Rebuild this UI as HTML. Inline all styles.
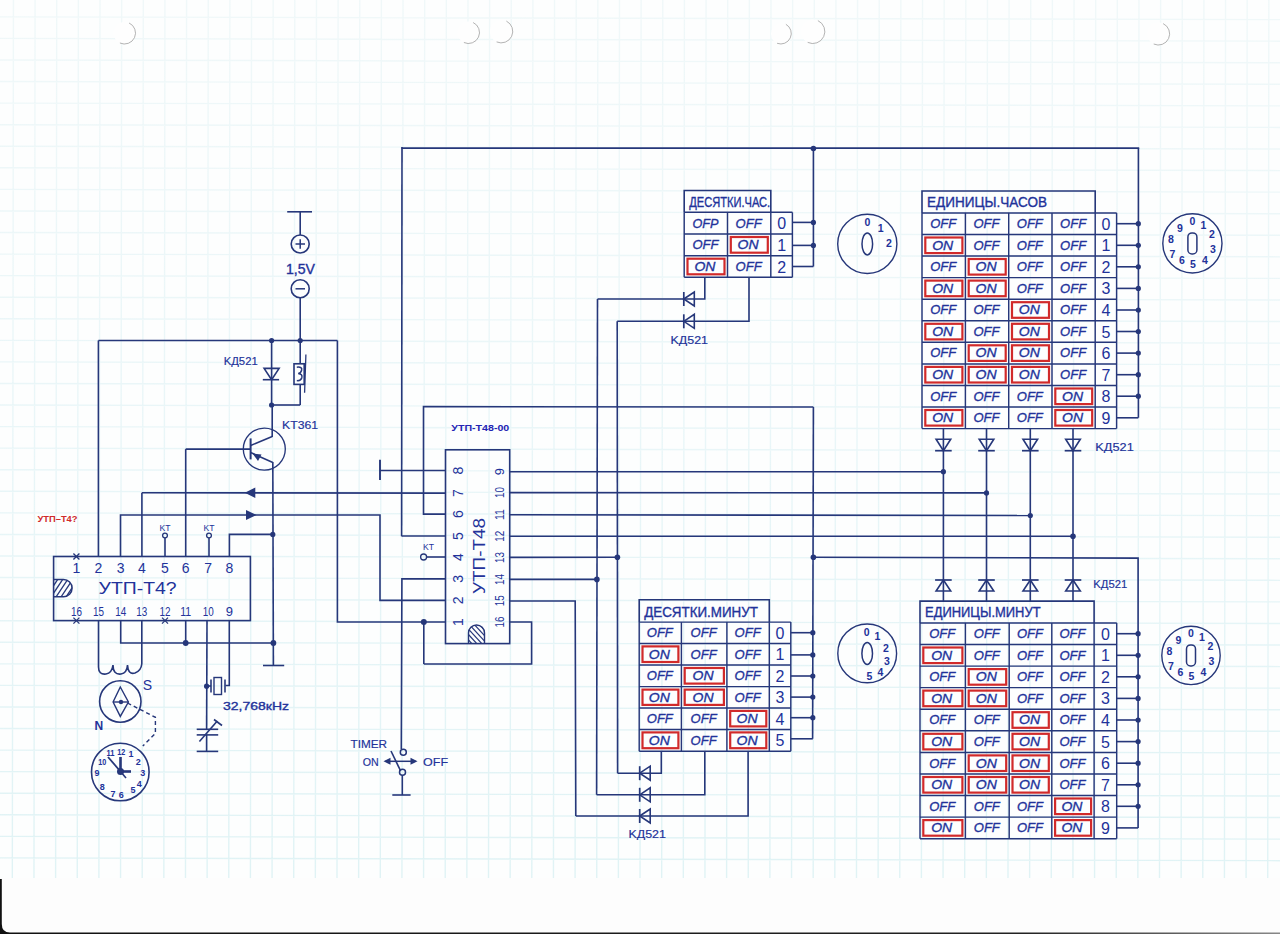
<!DOCTYPE html>
<html><head><meta charset="utf-8"><title>schematic</title>
<style>html,body{margin:0;padding:0;background:#fdfefe;}svg{display:block;}</style>
</head><body>
<svg width="1280" height="934" viewBox="0 0 1280 934">
<rect x="0" y="0" width="1280" height="934" fill="#fdfefe"/>
<defs><linearGradient id="gg" gradientUnits="userSpaceOnUse" x1="0" y1="0" x2="0" y2="880"><stop offset="0" stop-color="#f0f8f9"/><stop offset="0.5" stop-color="#e9f6f8"/><stop offset="1" stop-color="#e0f3f5"/></linearGradient></defs>
<path d="M13.43 0L12.32 879 M35.08 0L33.97 879 M56.72 0L55.61 879 M78.37 0L77.26 879 M100.01 0L98.90 879 M121.66 0L120.55 879 M143.30 0L142.19 879 M164.94 0L163.84 879 M186.59 0L185.48 879 M208.24 0L207.13 879 M229.88 0L228.77 879 M251.53 0L250.42 879 M273.17 0L272.06 879 M294.81 0L293.71 879 M316.46 0L315.35 879 M338.11 0L337.00 879 M359.75 0L358.64 879 M381.39 0L380.29 879 M403.04 0L401.93 879 M424.69 0L423.58 879 M446.33 0L445.22 879 M467.98 0L466.87 879 M489.62 0L488.51 879 M511.26 0L510.16 879 M532.91 0L531.80 879 M554.55 0L553.45 879 M576.20 0L575.09 879 M597.84 0L596.74 879 M619.49 0L618.38 879 M641.13 0L640.03 879 M662.78 0L661.67 879 M684.42 0L683.32 879 M706.07 0L704.96 879 M727.71 0L726.61 879 M749.36 0L748.25 879 M771.00 0L769.90 879 M792.65 0L791.54 879 M814.29 0L813.19 879 M835.94 0L834.83 879 M857.58 0L856.48 879 M879.23 0L878.12 879 M900.87 0L899.77 879 M922.52 0L921.41 879 M944.16 0L943.06 879 M965.81 0L964.70 879 M987.45 0L986.35 879 M1009.10 0L1007.99 879 M1030.74 0L1029.64 879 M1052.39 0L1051.28 879 M1074.04 0L1072.93 879 M1095.68 0L1094.57 879 M1117.33 0L1116.22 879 M1138.97 0L1137.86 879 M1160.62 0L1159.51 879 M1182.26 0L1181.15 879 M1203.90 0L1202.80 879 M1225.55 0L1224.44 879 M1247.19 0L1246.09 879 M1268.84 0L1267.73 879 M1290.49 0L1289.38 879 M0 16.85L1280 19.61 M0 38.42L1280 41.18 M0 59.98L1280 62.75 M0 81.55L1280 84.31 M0 103.11L1280 105.88 M0 124.68L1280 127.44 M0 146.25L1280 149.01 M0 167.81L1280 170.58 M0 189.38L1280 192.14 M0 210.94L1280 213.71 M0 232.51L1280 235.27 M0 254.08L1280 256.84 M0 275.64L1280 278.41 M0 297.21L1280 299.97 M0 318.77L1280 321.54 M0 340.34L1280 343.10 M0 361.91L1280 364.67 M0 383.47L1280 386.24 M0 405.04L1280 407.80 M0 426.60L1280 429.37 M0 448.17L1280 450.93 M0 469.74L1280 472.50 M0 491.30L1280 494.07 M0 512.87L1280 515.63 M0 534.43L1280 537.20 M0 556.00L1280 558.76 M0 577.57L1280 580.33 M0 599.13L1280 601.90 M0 620.70L1280 623.46 M0 642.26L1280 645.03 M0 663.83L1280 666.59 M0 685.40L1280 688.16 M0 706.96L1280 709.73 M0 728.53L1280 731.29 M0 750.09L1280 752.86 M0 771.66L1280 774.42 M0 793.23L1280 795.99 M0 814.79L1280 817.56 M0 836.36L1280 839.12 M0 857.92L1280 860.69" stroke="url(#gg)" stroke-width="1.4" fill="none"/>
<rect x="0" y="878" width="1280" height="56" fill="#fdfdfd"/>
<defs><linearGradient id="bg1" x1="0" x2="1" y1="0" y2="0"><stop offset="0" stop-color="#111"/><stop offset="0.8" stop-color="#222"/><stop offset="1" stop-color="#888"/></linearGradient></defs>
<path d="M0 879 H1.8 V924 Q1.8 932.5 10 932.6 H1280 V934 H0 Z" fill="url(#bg1)"/>
<circle cx="124.5" cy="33" r="11" fill="#fefefe"/>
<path d="M129.1 23.0 A11 11 0 0 1 119.9 43.0" stroke="#9a9a9a" stroke-width="1" fill="none" opacity="0.75"/>
<circle cx="468.5" cy="32.5" r="11" fill="#fefefe"/>
<path d="M473.1 22.5 A11 11 0 0 1 463.9 42.5" stroke="#9a9a9a" stroke-width="1" fill="none" opacity="0.75"/>
<circle cx="501.5" cy="31.5" r="11.5" fill="#fefefe"/>
<path d="M506.4 21.1 A11.5 11.5 0 0 1 496.6 41.9" stroke="#9a9a9a" stroke-width="1" fill="none" opacity="0.75"/>
<circle cx="781.5" cy="33.8" r="10.5" fill="#fefefe"/>
<path d="M785.9 24.3 A10.5 10.5 0 0 1 777.1 43.3" stroke="#9a9a9a" stroke-width="1" fill="none" opacity="0.75"/>
<circle cx="812.8" cy="31.5" r="12" fill="#fefefe"/>
<path d="M817.9 20.6 A12 12 0 0 1 807.7 42.4" stroke="#9a9a9a" stroke-width="1" fill="none" opacity="0.75"/>
<circle cx="1158.4" cy="33.8" r="11.2" fill="#fefefe"/>
<path d="M1163.1 23.6 A11.2 11.2 0 0 1 1153.7 44.0" stroke="#9a9a9a" stroke-width="1" fill="none" opacity="0.75"/>
<line x1="401.5" y1="148.1" x2="1139.2" y2="148.1" stroke="#26377a" stroke-width="1.6" />
<line x1="402.0" y1="147.0" x2="401.6" y2="536.2" stroke="#26377a" stroke-width="1.6" />
<circle cx="813.4" cy="148.5" r="2.8" fill="#26377a"/>
<line x1="287.2" y1="211.8" x2="312.0" y2="211.8" stroke="#26377a" stroke-width="1.6" />
<line x1="300.2" y1="211.8" x2="300.2" y2="235.0" stroke="#26377a" stroke-width="1.6" />
<circle cx="300.2" cy="244.0" r="9" fill="none" stroke="#26377a" stroke-width="1.6"/>
<line x1="295.5" y1="244.0" x2="305.0" y2="244.0" stroke="#26377a" stroke-width="1.5" />
<line x1="300.2" y1="239.3" x2="300.2" y2="248.8" stroke="#26377a" stroke-width="1.5" />
<text x="300.5" y="273.5" font-family="&quot;Liberation Sans&quot;, sans-serif" font-size="14" fill="#22329a" text-anchor="middle" font-weight="normal" font-style="normal" textLength="29" lengthAdjust="spacingAndGlyphs" stroke="#22329a" stroke-width="0.35">1,5V</text>
<circle cx="300.2" cy="288.8" r="9" fill="none" stroke="#26377a" stroke-width="1.6"/>
<line x1="295.5" y1="288.8" x2="305.0" y2="288.8" stroke="#26377a" stroke-width="1.5" />
<line x1="300.2" y1="297.8" x2="300.2" y2="340.5" stroke="#26377a" stroke-width="1.6" />
<line x1="98.4" y1="340.5" x2="337.4" y2="340.5" stroke="#26377a" stroke-width="1.6" />
<circle cx="271.6" cy="340.5" r="2.6" fill="#26377a"/>
<circle cx="300.2" cy="340.5" r="2.6" fill="#26377a"/>
<line x1="98.4" y1="340.5" x2="98.4" y2="556.5" stroke="#26377a" stroke-width="1.6" />
<polyline points="337.4,340.5 337.4,622.0 445.5,622.0" fill="none" stroke="#26377a" stroke-width="1.6" stroke-linejoin="miter" />
<line x1="271.6" y1="340.5" x2="271.6" y2="405.0" stroke="#26377a" stroke-width="1.6" />
<polygon points="264.1,368.4 279.1,368.4 271.6,379.7" fill="none" stroke="#26377a" stroke-width="1.6"/>
<line x1="262.8" y1="379.7" x2="279.1" y2="379.7" stroke="#26377a" stroke-width="1.6" />
<text x="240.7" y="365.0" font-family="&quot;Liberation Sans&quot;, sans-serif" font-size="10.5" fill="#22329a" text-anchor="middle" font-weight="normal" font-style="normal" textLength="34" lengthAdjust="spacingAndGlyphs" stroke="#22329a" stroke-width="0.15">KД521</text>
<line x1="300.2" y1="340.5" x2="300.2" y2="364.0" stroke="#26377a" stroke-width="1.6" />
<line x1="300.2" y1="384.4" x2="300.2" y2="405.0" stroke="#26377a" stroke-width="1.6" />
<rect x="294.0" y="363.8" width="10.2" height="20.6" fill="none" stroke="#26377a" stroke-width="1.6"/>
<path d="M296.8 367.2 Q302.6 366.6 301.6 370.2 Q300.8 373.2 298.2 373.4 Q302.8 374 301.8 377.8 Q300.8 381.2 296.8 380.6" stroke="#26377a" stroke-width="1.5" fill="none"/>
<line x1="305.9" y1="354.4" x2="304.6" y2="392.8" stroke="#26377a" stroke-width="1.3" />
<line x1="271.6" y1="405.0" x2="300.2" y2="405.0" stroke="#26377a" stroke-width="1.6" />
<circle cx="271.6" cy="405.0" r="2.6" fill="#26377a"/>
<circle cx="264.3" cy="449.1" r="21" fill="none" stroke="#26377a" stroke-width="1.35"/>
<line x1="272.2" y1="405.0" x2="272.2" y2="437.0" stroke="#26377a" stroke-width="1.6" />
<line x1="250.6" y1="438.4" x2="250.6" y2="459.4" stroke="#26377a" stroke-width="2" />
<line x1="250.6" y1="445.5" x2="272.2" y2="436.5" stroke="#26377a" stroke-width="1.6" />
<line x1="250.6" y1="452.5" x2="272.8" y2="462.5" stroke="#26377a" stroke-width="1.6" />
<polygon points="252.5,453.5 261.5,454.5 258.0,461.0" fill="#26377a" stroke="none" stroke-width="1.6"/>
<line x1="185.7" y1="449.1" x2="250.6" y2="449.1" stroke="#26377a" stroke-width="1.6" />
<line x1="185.7" y1="449.1" x2="185.7" y2="556.5" stroke="#26377a" stroke-width="1.6" />
<text x="300.1" y="429.2" font-family="&quot;Liberation Sans&quot;, sans-serif" font-size="10.5" fill="#22329a" text-anchor="middle" font-weight="normal" font-style="normal" textLength="36" lengthAdjust="spacingAndGlyphs" stroke="#22329a" stroke-width="0.15">KT361</text>
<line x1="272.8" y1="462.0" x2="273.4" y2="665.5" stroke="#26377a" stroke-width="1.6" />
<circle cx="272.8" cy="534.4" r="2.6" fill="#26377a"/>
<circle cx="273.4" cy="643.0" r="2.9" fill="#26377a"/>
<line x1="263.0" y1="665.5" x2="284.2" y2="665.5" stroke="#26377a" stroke-width="1.6" />
<line x1="141.9" y1="492.8" x2="445.5" y2="493.1" stroke="#26377a" stroke-width="1.6" />
<line x1="141.9" y1="492.8" x2="141.9" y2="556.5" stroke="#26377a" stroke-width="1.6" />
<polygon points="244.8,492.8 255.3,487.6 255.3,498.0" fill="#26377a" stroke="none" stroke-width="1.6"/>
<polyline points="120.5,556.5 120.5,515.0 380.0,515.0 380.0,600.4 445.5,600.4" fill="none" stroke="#26377a" stroke-width="1.6" stroke-linejoin="miter" />
<polygon points="256.5,515.0 246.0,510.0 246.0,520.0" fill="#26377a" stroke="none" stroke-width="1.6"/>
<circle cx="165.0" cy="535.5" r="2.4" fill="none" stroke="#26377a" stroke-width="1.3"/>
<line x1="165.0" y1="538.0" x2="165.0" y2="556.5" stroke="#26377a" stroke-width="1.6" />
<text x="165.0" y="531.0" font-family="&quot;Liberation Sans&quot;, sans-serif" font-size="9" fill="#22329a" text-anchor="middle" font-weight="normal" font-style="normal" textLength="11" lengthAdjust="spacingAndGlyphs" >KT</text>
<circle cx="209.0" cy="535.5" r="2.4" fill="none" stroke="#26377a" stroke-width="1.3"/>
<line x1="209.0" y1="538.0" x2="209.0" y2="556.5" stroke="#26377a" stroke-width="1.6" />
<text x="209.0" y="531.0" font-family="&quot;Liberation Sans&quot;, sans-serif" font-size="9" fill="#22329a" text-anchor="middle" font-weight="normal" font-style="normal" textLength="11" lengthAdjust="spacingAndGlyphs" >KT</text>
<polyline points="229.4,556.5 229.4,534.4 272.8,534.4" fill="none" stroke="#26377a" stroke-width="1.6" stroke-linejoin="miter" />
<rect x="53.6" y="556.5" width="196.8" height="64.1" fill="none" stroke="#26377a" stroke-width="1.6"/>
<text x="37.5" y="521.7" font-family="&quot;Liberation Sans&quot;, sans-serif" font-size="9" fill="#d02a2a" text-anchor="start" font-weight="bold" font-style="normal" textLength="40" lengthAdjust="spacingAndGlyphs" >УТП–Т4?</text>
<text x="76.4" y="572.5" font-family="&quot;Liberation Sans&quot;, sans-serif" font-size="14" fill="#22329a" text-anchor="middle" font-weight="normal" font-style="normal" >1</text>
<text x="98.5" y="572.5" font-family="&quot;Liberation Sans&quot;, sans-serif" font-size="14" fill="#22329a" text-anchor="middle" font-weight="normal" font-style="normal" >2</text>
<text x="120.7" y="572.5" font-family="&quot;Liberation Sans&quot;, sans-serif" font-size="14" fill="#22329a" text-anchor="middle" font-weight="normal" font-style="normal" >3</text>
<text x="141.8" y="572.5" font-family="&quot;Liberation Sans&quot;, sans-serif" font-size="14" fill="#22329a" text-anchor="middle" font-weight="normal" font-style="normal" >4</text>
<text x="165.0" y="572.5" font-family="&quot;Liberation Sans&quot;, sans-serif" font-size="14" fill="#22329a" text-anchor="middle" font-weight="normal" font-style="normal" >5</text>
<text x="185.7" y="572.5" font-family="&quot;Liberation Sans&quot;, sans-serif" font-size="14" fill="#22329a" text-anchor="middle" font-weight="normal" font-style="normal" >6</text>
<text x="208.2" y="572.5" font-family="&quot;Liberation Sans&quot;, sans-serif" font-size="14" fill="#22329a" text-anchor="middle" font-weight="normal" font-style="normal" >7</text>
<text x="229.3" y="572.5" font-family="&quot;Liberation Sans&quot;, sans-serif" font-size="14" fill="#22329a" text-anchor="middle" font-weight="normal" font-style="normal" >8</text>
<text x="76.4" y="615.6" font-family="&quot;Liberation Sans&quot;, sans-serif" font-size="13" fill="#22329a" text-anchor="middle" font-weight="normal" font-style="normal" textLength="11" lengthAdjust="spacingAndGlyphs" >16</text>
<text x="98.5" y="615.6" font-family="&quot;Liberation Sans&quot;, sans-serif" font-size="13" fill="#22329a" text-anchor="middle" font-weight="normal" font-style="normal" textLength="11" lengthAdjust="spacingAndGlyphs" >15</text>
<text x="120.7" y="615.6" font-family="&quot;Liberation Sans&quot;, sans-serif" font-size="13" fill="#22329a" text-anchor="middle" font-weight="normal" font-style="normal" textLength="11" lengthAdjust="spacingAndGlyphs" >14</text>
<text x="141.8" y="615.6" font-family="&quot;Liberation Sans&quot;, sans-serif" font-size="13" fill="#22329a" text-anchor="middle" font-weight="normal" font-style="normal" textLength="11" lengthAdjust="spacingAndGlyphs" >13</text>
<text x="165.0" y="615.6" font-family="&quot;Liberation Sans&quot;, sans-serif" font-size="13" fill="#22329a" text-anchor="middle" font-weight="normal" font-style="normal" textLength="11" lengthAdjust="spacingAndGlyphs" >12</text>
<text x="185.7" y="615.6" font-family="&quot;Liberation Sans&quot;, sans-serif" font-size="13" fill="#22329a" text-anchor="middle" font-weight="normal" font-style="normal" textLength="11" lengthAdjust="spacingAndGlyphs" >11</text>
<text x="208.2" y="615.6" font-family="&quot;Liberation Sans&quot;, sans-serif" font-size="13" fill="#22329a" text-anchor="middle" font-weight="normal" font-style="normal" textLength="11" lengthAdjust="spacingAndGlyphs" >10</text>
<text x="229.3" y="615.6" font-family="&quot;Liberation Sans&quot;, sans-serif" font-size="13" fill="#22329a" text-anchor="middle" font-weight="normal" font-style="normal" >9</text>
<text x="137.6" y="593.6" font-family="&quot;Liberation Sans&quot;, sans-serif" font-size="16" fill="#22329a" text-anchor="middle" font-weight="normal" font-style="normal" textLength="78" lengthAdjust="spacingAndGlyphs" >УТП-Т4?</text>
<line x1="73.4" y1="553.5" x2="79.4" y2="559.5" stroke="#26377a" stroke-width="1.3" />
<line x1="73.4" y1="559.5" x2="79.4" y2="553.5" stroke="#26377a" stroke-width="1.3" />
<line x1="73.4" y1="617.6" x2="79.4" y2="623.6" stroke="#26377a" stroke-width="1.3" />
<line x1="73.4" y1="623.6" x2="79.4" y2="617.6" stroke="#26377a" stroke-width="1.3" />
<line x1="162.0" y1="617.6" x2="168.0" y2="623.6" stroke="#26377a" stroke-width="1.3" />
<line x1="162.0" y1="623.6" x2="168.0" y2="617.6" stroke="#26377a" stroke-width="1.3" />
<clipPath id="nc1"><path d="M53.6 579.5 H63.5 A8.6 8.6 0 0 1 63.5 596.7 H53.6 Z"/></clipPath>
<path d="M53.6 579.5 H63.5 A8.6 8.6 0 0 1 63.5 596.7 H53.6" stroke="#26377a" stroke-width="1.5" fill="none"/>
<g clip-path="url(#nc1)" stroke="#26377a" stroke-width="1.3"><line x1="44" y1="600" x2="60" y2="576"/><line x1="49" y1="600" x2="65" y2="576"/><line x1="54" y1="600" x2="70" y2="576"/><line x1="59" y1="600" x2="75" y2="576"/><line x1="64" y1="600" x2="80" y2="576"/><line x1="69" y1="600" x2="85" y2="576"/></g>
<line x1="98.5" y1="620.6" x2="98.5" y2="667.0" stroke="#26377a" stroke-width="1.6" />
<line x1="141.8" y1="620.6" x2="141.8" y2="664.0" stroke="#26377a" stroke-width="1.6" />
<path d="M98.5 667 Q98.5 675 106 674 Q112 673 113 665 Q113 675 121 674 Q127 673 127.5 665 Q128 675 135 673 Q141 671 141.8 664" stroke="#26377a" stroke-width="1.6" fill="none"/>
<polyline points="120.7,620.6 120.7,643.0 273.4,643.0" fill="none" stroke="#26377a" stroke-width="1.6" stroke-linejoin="miter" />
<line x1="185.7" y1="620.6" x2="185.7" y2="643.0" stroke="#26377a" stroke-width="1.6" />
<circle cx="185.7" cy="643.0" r="2.9" fill="#26377a"/>
<line x1="207.0" y1="620.6" x2="206.6" y2="729.3" stroke="#26377a" stroke-width="1.6" />
<circle cx="206.6" cy="686.2" r="2.6" fill="#26377a"/>
<polyline points="229.3,620.6 229.3,685.5 225.5,685.5" fill="none" stroke="#26377a" stroke-width="1.6" stroke-linejoin="miter" />
<line x1="206.6" y1="686.0" x2="211.0" y2="686.0" stroke="#26377a" stroke-width="1.6" />
<line x1="211.0" y1="679.5" x2="211.0" y2="692.5" stroke="#26377a" stroke-width="1.6" />
<rect x="214.0" y="677.5" width="7.5" height="17.0" fill="none" stroke="#26377a" stroke-width="1.4"/>
<line x1="225.0" y1="679.5" x2="225.0" y2="692.5" stroke="#26377a" stroke-width="1.6" />
<text x="256.0" y="709.5" font-family="&quot;Liberation Sans&quot;, sans-serif" font-size="11.5" fill="#22329a" text-anchor="middle" font-weight="normal" font-style="normal" textLength="66" lengthAdjust="spacingAndGlyphs" stroke="#22329a" stroke-width="0.35">32,768кHz</text>
<line x1="196.7" y1="729.3" x2="218.2" y2="729.3" stroke="#26377a" stroke-width="1.6" />
<line x1="196.7" y1="734.9" x2="218.2" y2="734.9" stroke="#26377a" stroke-width="1.6" />
<line x1="206.6" y1="734.9" x2="206.6" y2="751.4" stroke="#26377a" stroke-width="1.6" />
<line x1="196.7" y1="751.4" x2="218.2" y2="751.4" stroke="#26377a" stroke-width="1.6" />
<line x1="199.4" y1="741.5" x2="217.3" y2="720.9" stroke="#26377a" stroke-width="1.6" />
<line x1="214.0" y1="719.5" x2="222.0" y2="725.5" stroke="#26377a" stroke-width="1.6" />
<circle cx="120.3" cy="701.5" r="20.7" fill="none" stroke="#26377a" stroke-width="1.6"/>
<polygon points="120.3,687.0 128.4,702.0 120.3,716.4 113.1,702.0" fill="none" stroke="#26377a" stroke-width="1.4"/>
<line x1="113.1" y1="702.0" x2="128.4" y2="702.0" stroke="#26377a" stroke-width="1.4" />
<circle cx="121.0" cy="702.0" r="2.2" fill="#26377a"/>
<text x="147.3" y="690.0" font-family="&quot;Liberation Sans&quot;, sans-serif" font-size="14" fill="#22329a" text-anchor="middle" font-weight="normal" font-style="normal" >S</text>
<text x="98.8" y="729.5" font-family="&quot;Liberation Sans&quot;, sans-serif" font-size="12" fill="#22329a" text-anchor="middle" font-weight="bold" font-style="normal" >N</text>
<polyline points="127.5,703.0 155.4,717.3 155.4,733.4 142.8,746.0" fill="none" stroke="#26377a" stroke-width="1.4" stroke-linejoin="miter" stroke-dasharray="4,3"/>
<circle cx="120.3" cy="772.0" r="28.8" fill="none" stroke="#26377a" stroke-width="1.6"/>
<text x="121.2" y="754.6" font-family="&quot;Liberation Sans&quot;, sans-serif" font-size="9" fill="#22329a" text-anchor="middle" font-weight="bold" font-style="normal" textLength="8" lengthAdjust="spacingAndGlyphs" >12</text>
<text x="131.1" y="756.8" font-family="&quot;Liberation Sans&quot;, sans-serif" font-size="9" fill="#22329a" text-anchor="middle" font-weight="bold" font-style="normal" >1</text>
<text x="138.3" y="764.5" font-family="&quot;Liberation Sans&quot;, sans-serif" font-size="9" fill="#22329a" text-anchor="middle" font-weight="bold" font-style="normal" >2</text>
<text x="142.8" y="776.2" font-family="&quot;Liberation Sans&quot;, sans-serif" font-size="9" fill="#22329a" text-anchor="middle" font-weight="bold" font-style="normal" >3</text>
<text x="139.2" y="787.0" font-family="&quot;Liberation Sans&quot;, sans-serif" font-size="9" fill="#22329a" text-anchor="middle" font-weight="bold" font-style="normal" >4</text>
<text x="132.9" y="793.2" font-family="&quot;Liberation Sans&quot;, sans-serif" font-size="9" fill="#22329a" text-anchor="middle" font-weight="bold" font-style="normal" >5</text>
<text x="121.2" y="797.7" font-family="&quot;Liberation Sans&quot;, sans-serif" font-size="9" fill="#22329a" text-anchor="middle" font-weight="bold" font-style="normal" >6</text>
<text x="113.1" y="796.8" font-family="&quot;Liberation Sans&quot;, sans-serif" font-size="9" fill="#22329a" text-anchor="middle" font-weight="bold" font-style="normal" >7</text>
<text x="102.3" y="789.7" font-family="&quot;Liberation Sans&quot;, sans-serif" font-size="9" fill="#22329a" text-anchor="middle" font-weight="bold" font-style="normal" >8</text>
<text x="97.0" y="776.2" font-family="&quot;Liberation Sans&quot;, sans-serif" font-size="9" fill="#22329a" text-anchor="middle" font-weight="bold" font-style="normal" >9</text>
<text x="102.3" y="765.4" font-family="&quot;Liberation Sans&quot;, sans-serif" font-size="9" fill="#22329a" text-anchor="middle" font-weight="bold" font-style="normal" textLength="8" lengthAdjust="spacingAndGlyphs" >10</text>
<text x="110.4" y="756.4" font-family="&quot;Liberation Sans&quot;, sans-serif" font-size="9" fill="#22329a" text-anchor="middle" font-weight="bold" font-style="normal" textLength="8" lengthAdjust="spacingAndGlyphs" >11</text>
<line x1="120.5" y1="771.5" x2="108.0" y2="757.0" stroke="#26377a" stroke-width="1.8" />
<line x1="120.5" y1="771.5" x2="120.5" y2="757.0" stroke="#26377a" stroke-width="2.6" />
<line x1="120.5" y1="771.5" x2="131.0" y2="771.5" stroke="#26377a" stroke-width="2.6" />
<line x1="120.5" y1="771.5" x2="126.0" y2="778.0" stroke="#26377a" stroke-width="1.6" />
<circle cx="120.5" cy="771.5" r="3.5" fill="#26377a"/>
<rect x="445.5" y="449.8" width="64.2" height="193.8" fill="none" stroke="#26377a" stroke-width="1.6"/>
<text x="0.0" y="0.0" font-family="&quot;Liberation Sans&quot;, sans-serif" font-size="14" fill="#22329a" text-anchor="middle" font-weight="normal" font-style="normal" transform="translate(458.5 470.6) rotate(-90) translate(0 4.5)">8</text>
<text x="0.0" y="0.0" font-family="&quot;Liberation Sans&quot;, sans-serif" font-size="14" fill="#22329a" text-anchor="middle" font-weight="normal" font-style="normal" transform="translate(458.5 493.1) rotate(-90) translate(0 4.5)">7</text>
<text x="0.0" y="0.0" font-family="&quot;Liberation Sans&quot;, sans-serif" font-size="14" fill="#22329a" text-anchor="middle" font-weight="normal" font-style="normal" transform="translate(458.5 514.1) rotate(-90) translate(0 4.5)">6</text>
<text x="0.0" y="0.0" font-family="&quot;Liberation Sans&quot;, sans-serif" font-size="14" fill="#22329a" text-anchor="middle" font-weight="normal" font-style="normal" transform="translate(458.5 536.0) rotate(-90) translate(0 4.5)">5</text>
<text x="0.0" y="0.0" font-family="&quot;Liberation Sans&quot;, sans-serif" font-size="14" fill="#22329a" text-anchor="middle" font-weight="normal" font-style="normal" transform="translate(458.5 557.0) rotate(-90) translate(0 4.5)">4</text>
<text x="0.0" y="0.0" font-family="&quot;Liberation Sans&quot;, sans-serif" font-size="14" fill="#22329a" text-anchor="middle" font-weight="normal" font-style="normal" transform="translate(458.5 578.9) rotate(-90) translate(0 4.5)">3</text>
<text x="0.0" y="0.0" font-family="&quot;Liberation Sans&quot;, sans-serif" font-size="14" fill="#22329a" text-anchor="middle" font-weight="normal" font-style="normal" transform="translate(458.5 600.4) rotate(-90) translate(0 4.5)">2</text>
<text x="0.0" y="0.0" font-family="&quot;Liberation Sans&quot;, sans-serif" font-size="14" fill="#22329a" text-anchor="middle" font-weight="normal" font-style="normal" transform="translate(458.5 622.0) rotate(-90) translate(0 4.5)">1</text>
<text x="0.0" y="0.0" font-family="&quot;Liberation Sans&quot;, sans-serif" font-size="13" fill="#22329a" text-anchor="middle" font-weight="normal" font-style="normal" transform="translate(499 471.7) rotate(-90) translate(0 4.5)">9</text>
<text x="0.0" y="0.0" font-family="&quot;Liberation Sans&quot;, sans-serif" font-size="13" fill="#22329a" text-anchor="middle" font-weight="normal" font-style="normal" textLength="11" lengthAdjust="spacingAndGlyphs" transform="translate(499 492.5) rotate(-90) translate(0 4.5)">10</text>
<text x="0.0" y="0.0" font-family="&quot;Liberation Sans&quot;, sans-serif" font-size="13" fill="#22329a" text-anchor="middle" font-weight="normal" font-style="normal" textLength="11" lengthAdjust="spacingAndGlyphs" transform="translate(499 514.6) rotate(-90) translate(0 4.5)">11</text>
<text x="0.0" y="0.0" font-family="&quot;Liberation Sans&quot;, sans-serif" font-size="13" fill="#22329a" text-anchor="middle" font-weight="normal" font-style="normal" textLength="11" lengthAdjust="spacingAndGlyphs" transform="translate(499 536.2) rotate(-90) translate(0 4.5)">12</text>
<text x="0.0" y="0.0" font-family="&quot;Liberation Sans&quot;, sans-serif" font-size="13" fill="#22329a" text-anchor="middle" font-weight="normal" font-style="normal" textLength="11" lengthAdjust="spacingAndGlyphs" transform="translate(499 557.5) rotate(-90) translate(0 4.5)">13</text>
<text x="0.0" y="0.0" font-family="&quot;Liberation Sans&quot;, sans-serif" font-size="13" fill="#22329a" text-anchor="middle" font-weight="normal" font-style="normal" textLength="11" lengthAdjust="spacingAndGlyphs" transform="translate(499 579.4) rotate(-90) translate(0 4.5)">14</text>
<text x="0.0" y="0.0" font-family="&quot;Liberation Sans&quot;, sans-serif" font-size="13" fill="#22329a" text-anchor="middle" font-weight="normal" font-style="normal" textLength="11" lengthAdjust="spacingAndGlyphs" transform="translate(499 600.8) rotate(-90) translate(0 4.5)">15</text>
<text x="0.0" y="0.0" font-family="&quot;Liberation Sans&quot;, sans-serif" font-size="13" fill="#22329a" text-anchor="middle" font-weight="normal" font-style="normal" textLength="11" lengthAdjust="spacingAndGlyphs" transform="translate(499 622.0) rotate(-90) translate(0 4.5)">16</text>
<text x="0.0" y="0.0" font-family="&quot;Liberation Sans&quot;, sans-serif" font-size="17" fill="#22329a" text-anchor="middle" font-weight="normal" font-style="normal" textLength="76" lengthAdjust="spacingAndGlyphs" transform="translate(478.5 556) rotate(-90) translate(0 6)">УТП-Т48</text>
<text x="451.3" y="430.9" font-family="&quot;Liberation Sans&quot;, sans-serif" font-size="8.5" fill="#2424b4" text-anchor="start" font-weight="bold" font-style="normal" textLength="58" lengthAdjust="spacingAndGlyphs" >УТП-Т48-00</text>
<clipPath id="nc2"><path d="M468.5 643.6 V633 A8 8 0 0 1 484.5 633 V643.6 Z"/></clipPath>
<path d="M468.5 643.6 V633 A8 8 0 0 1 484.5 633 V643.6" stroke="#26377a" stroke-width="1.4" fill="none"/>
<g clip-path="url(#nc2)" stroke="#26377a" stroke-width="1.2"><line x1="452" y1="622" x2="474" y2="646"/><line x1="457" y1="622" x2="479" y2="646"/><line x1="462" y1="622" x2="484" y2="646"/><line x1="467" y1="622" x2="489" y2="646"/><line x1="472" y1="622" x2="494" y2="646"/><line x1="477" y1="622" x2="499" y2="646"/><line x1="482" y1="622" x2="504" y2="646"/></g>
<line x1="380.0" y1="470.5" x2="445.5" y2="470.5" stroke="#26377a" stroke-width="1.6" />
<line x1="380.0" y1="459.8" x2="380.0" y2="480.0" stroke="#26377a" stroke-width="1.9" />
<polyline points="813.4,407.0 423.5,406.6 423.5,514.1 445.5,514.1" fill="none" stroke="#26377a" stroke-width="1.6" stroke-linejoin="miter" />
<line x1="401.6" y1="536.0" x2="445.5" y2="536.0" stroke="#26377a" stroke-width="1.6" />
<line x1="426.6" y1="557.0" x2="445.5" y2="557.0" stroke="#26377a" stroke-width="1.6" />
<circle cx="423.6" cy="557.0" r="3" fill="none" stroke="#26377a" stroke-width="1.3"/>
<text x="428.5" y="549.5" font-family="&quot;Liberation Sans&quot;, sans-serif" font-size="8.5" fill="#22329a" text-anchor="middle" font-weight="normal" font-style="normal" textLength="11" lengthAdjust="spacingAndGlyphs" >KT</text>
<polyline points="445.5,578.9 401.9,578.9 401.3,749.2" fill="none" stroke="#26377a" stroke-width="1.6" stroke-linejoin="miter" />
<line x1="423.8" y1="622.0" x2="423.8" y2="664.0" stroke="#26377a" stroke-width="1.6" />
<polyline points="423.8,664.0 531.6,664.0 531.6,622.0 509.7,622.0" fill="none" stroke="#26377a" stroke-width="1.6" stroke-linejoin="miter" />
<circle cx="423.8" cy="622.0" r="3" fill="#26377a"/>
<line x1="509.7" y1="471.7" x2="943.4" y2="471.7" stroke="#26377a" stroke-width="1.6" />
<circle cx="943.4" cy="471.7" r="2.6" fill="#26377a"/>
<line x1="509.7" y1="492.6" x2="986.5" y2="492.9" stroke="#26377a" stroke-width="1.6" />
<circle cx="986.5" cy="492.9" r="2.6" fill="#26377a"/>
<line x1="509.7" y1="514.8" x2="1030.3" y2="515.5" stroke="#26377a" stroke-width="1.6" />
<circle cx="1030.3" cy="515.5" r="2.6" fill="#26377a"/>
<line x1="509.7" y1="536.2" x2="1073.0" y2="536.3" stroke="#26377a" stroke-width="1.6" />
<circle cx="1073.0" cy="536.3" r="2.8" fill="#26377a"/>
<line x1="509.7" y1="557.4" x2="617.4" y2="557.3" stroke="#26377a" stroke-width="1.6" />
<circle cx="617.4" cy="557.3" r="2.8" fill="#26377a"/>
<polyline points="813.4,557.3 1138.1,558.1 1138.1,828.1" fill="none" stroke="#26377a" stroke-width="1.6" stroke-linejoin="miter" />
<circle cx="813.4" cy="557.3" r="2.8" fill="#26377a"/>
<line x1="509.7" y1="579.4" x2="596.9" y2="579.4" stroke="#26377a" stroke-width="1.6" />
<circle cx="596.9" cy="579.4" r="2.8" fill="#26377a"/>
<polyline points="509.7,601.0 575.2,601.0 575.8,816.0" fill="none" stroke="#26377a" stroke-width="1.6" stroke-linejoin="miter" />
<line x1="597.5" y1="299.0" x2="596.6" y2="794.8" stroke="#26377a" stroke-width="1.6" />
<line x1="617.2" y1="321.3" x2="617.6" y2="773.2" stroke="#26377a" stroke-width="1.6" />
<line x1="813.4" y1="407.0" x2="812.6" y2="738.8" stroke="#26377a" stroke-width="1.6" />
<circle cx="403.3" cy="752.3" r="3" fill="none" stroke="#26377a" stroke-width="1.5"/>
<circle cx="402.5" cy="772.2" r="3" fill="none" stroke="#26377a" stroke-width="1.5"/>
<line x1="391.0" y1="751.0" x2="400.6" y2="770.9" stroke="#26377a" stroke-width="1.6" />
<line x1="385.5" y1="761.3" x2="415.5" y2="761.3" stroke="#26377a" stroke-width="1.5" />
<polygon points="383.5,761.3 390.5,757.8 390.5,764.8" fill="#26377a" stroke="none" stroke-width="1.6"/>
<polygon points="417.5,761.3 410.5,757.8 410.5,764.8" fill="#26377a" stroke="none" stroke-width="1.6"/>
<line x1="402.3" y1="775.2" x2="402.3" y2="795.0" stroke="#26377a" stroke-width="1.6" />
<line x1="392.3" y1="795.0" x2="410.6" y2="795.0" stroke="#26377a" stroke-width="1.6" />
<text x="368.8" y="747.5" font-family="&quot;Liberation Sans&quot;, sans-serif" font-size="10.5" fill="#22329a" text-anchor="middle" font-weight="normal" font-style="normal" textLength="36.6" lengthAdjust="spacingAndGlyphs" stroke="#22329a" stroke-width="0.15">TIMER</text>
<text x="370.8" y="765.5" font-family="&quot;Liberation Sans&quot;, sans-serif" font-size="11" fill="#22329a" text-anchor="middle" font-weight="normal" font-style="normal" textLength="16" lengthAdjust="spacingAndGlyphs" stroke="#22329a" stroke-width="0.15">ON</text>
<text x="435.6" y="765.5" font-family="&quot;Liberation Sans&quot;, sans-serif" font-size="11" fill="#22329a" text-anchor="middle" font-weight="normal" font-style="normal" textLength="25" lengthAdjust="spacingAndGlyphs" stroke="#22329a" stroke-width="0.15">OFF</text>
<polyline points="684.2,212.3 684.2,190.5 770.8,190.5 770.8,212.3" fill="none" stroke="#26377a" stroke-width="1.6" stroke-linejoin="miter" />
<text x="689.2" y="206.8" font-family="&quot;Liberation Sans&quot;, sans-serif" font-size="14" fill="#22329a" text-anchor="start" font-weight="normal" font-style="normal" textLength="81" lengthAdjust="spacingAndGlyphs" stroke="#22329a" stroke-width="0.35">ДЕСЯТКИ.ЧАС.</text>
<line x1="684.2" y1="212.3" x2="684.2" y2="277.3" stroke="#26377a" stroke-width="1.45" />
<line x1="727.5" y1="212.3" x2="727.5" y2="277.3" stroke="#26377a" stroke-width="1.45" />
<line x1="770.8" y1="212.3" x2="770.8" y2="277.3" stroke="#26377a" stroke-width="1.45" />
<line x1="792.4" y1="212.3" x2="792.4" y2="277.3" stroke="#26377a" stroke-width="1.45" />
<line x1="684.2" y1="212.3" x2="792.4" y2="212.3" stroke="#26377a" stroke-width="1.45" />
<line x1="684.2" y1="234.0" x2="792.4" y2="234.0" stroke="#26377a" stroke-width="1.45" />
<line x1="684.2" y1="255.7" x2="792.4" y2="255.7" stroke="#26377a" stroke-width="1.45" />
<line x1="684.2" y1="277.3" x2="792.4" y2="277.3" stroke="#26377a" stroke-width="1.45" />
<text x="705.4" y="227.5" font-family="&quot;Liberation Sans&quot;, sans-serif" font-size="13.5" fill="#22329a" text-anchor="middle" font-weight="normal" font-style="italic" textLength="26" lengthAdjust="spacingAndGlyphs" stroke="#22329a" stroke-width="0.35">OFP</text>
<text x="748.6" y="227.5" font-family="&quot;Liberation Sans&quot;, sans-serif" font-size="13.5" fill="#22329a" text-anchor="middle" font-weight="normal" font-style="italic" textLength="26" lengthAdjust="spacingAndGlyphs" stroke="#22329a" stroke-width="0.35">OFF</text>
<text x="781.6" y="229.2" font-family="&quot;Liberation Sans&quot;, sans-serif" font-size="16" fill="#22329a" text-anchor="middle" font-weight="normal" font-style="normal" >0</text>
<text x="705.4" y="249.2" font-family="&quot;Liberation Sans&quot;, sans-serif" font-size="13.5" fill="#22329a" text-anchor="middle" font-weight="normal" font-style="italic" textLength="26" lengthAdjust="spacingAndGlyphs" stroke="#22329a" stroke-width="0.35">OFF</text>
<rect x="730.8" y="237.0" width="37.0" height="15.7" fill="none" stroke="#d12a2a" stroke-width="2.2"/>
<text x="748.1" y="249.2" font-family="&quot;Liberation Sans&quot;, sans-serif" font-size="13.5" fill="#22329a" text-anchor="middle" font-weight="normal" font-style="italic" textLength="21" lengthAdjust="spacingAndGlyphs" stroke="#22329a" stroke-width="0.35">ON</text>
<text x="781.6" y="250.8" font-family="&quot;Liberation Sans&quot;, sans-serif" font-size="16" fill="#22329a" text-anchor="middle" font-weight="normal" font-style="normal" >1</text>
<rect x="687.5" y="258.7" width="37.0" height="15.6" fill="none" stroke="#d12a2a" stroke-width="2.2"/>
<text x="704.9" y="270.8" font-family="&quot;Liberation Sans&quot;, sans-serif" font-size="13.5" fill="#22329a" text-anchor="middle" font-weight="normal" font-style="italic" textLength="21" lengthAdjust="spacingAndGlyphs" stroke="#22329a" stroke-width="0.35">ON</text>
<text x="748.6" y="270.8" font-family="&quot;Liberation Sans&quot;, sans-serif" font-size="13.5" fill="#22329a" text-anchor="middle" font-weight="normal" font-style="italic" textLength="26" lengthAdjust="spacingAndGlyphs" stroke="#22329a" stroke-width="0.35">OFF</text>
<text x="781.6" y="272.5" font-family="&quot;Liberation Sans&quot;, sans-serif" font-size="16" fill="#22329a" text-anchor="middle" font-weight="normal" font-style="normal" >2</text>
<line x1="792.4" y1="222.4" x2="813.4" y2="222.4" stroke="#26377a" stroke-width="1.6" />
<line x1="792.4" y1="245.4" x2="813.4" y2="245.4" stroke="#26377a" stroke-width="1.6" />
<line x1="792.4" y1="266.5" x2="813.4" y2="266.5" stroke="#26377a" stroke-width="1.6" />
<line x1="813.4" y1="148.5" x2="813.4" y2="266.5" stroke="#26377a" stroke-width="1.6" />
<circle cx="813.4" cy="222.4" r="2.6" fill="#26377a"/>
<circle cx="813.4" cy="245.4" r="2.6" fill="#26377a"/>
<polyline points="922.0,212.9 922.0,191.0 1095.2,191.0 1095.2,212.9" fill="none" stroke="#26377a" stroke-width="1.6" stroke-linejoin="miter" />
<text x="927.0" y="207.4" font-family="&quot;Liberation Sans&quot;, sans-serif" font-size="14" fill="#22329a" text-anchor="start" font-weight="normal" font-style="normal" textLength="120" lengthAdjust="spacingAndGlyphs" stroke="#22329a" stroke-width="0.35">ЕДИНИЦЫ.ЧАСОВ</text>
<line x1="922.0" y1="212.9" x2="922.0" y2="428.6" stroke="#26377a" stroke-width="1.45" />
<line x1="965.4" y1="212.9" x2="965.4" y2="428.6" stroke="#26377a" stroke-width="1.45" />
<line x1="1008.7" y1="212.9" x2="1008.7" y2="428.6" stroke="#26377a" stroke-width="1.45" />
<line x1="1052.0" y1="212.9" x2="1052.0" y2="428.6" stroke="#26377a" stroke-width="1.45" />
<line x1="1095.2" y1="212.9" x2="1095.2" y2="428.6" stroke="#26377a" stroke-width="1.45" />
<line x1="1116.6" y1="212.9" x2="1116.6" y2="428.6" stroke="#26377a" stroke-width="1.45" />
<line x1="922.0" y1="212.9" x2="1116.6" y2="212.9" stroke="#26377a" stroke-width="1.45" />
<line x1="922.0" y1="234.5" x2="1116.6" y2="234.5" stroke="#26377a" stroke-width="1.45" />
<line x1="922.0" y1="256.0" x2="1116.6" y2="256.0" stroke="#26377a" stroke-width="1.45" />
<line x1="922.0" y1="277.6" x2="1116.6" y2="277.6" stroke="#26377a" stroke-width="1.45" />
<line x1="922.0" y1="299.2" x2="1116.6" y2="299.2" stroke="#26377a" stroke-width="1.45" />
<line x1="922.0" y1="320.8" x2="1116.6" y2="320.8" stroke="#26377a" stroke-width="1.45" />
<line x1="922.0" y1="342.3" x2="1116.6" y2="342.3" stroke="#26377a" stroke-width="1.45" />
<line x1="922.0" y1="363.9" x2="1116.6" y2="363.9" stroke="#26377a" stroke-width="1.45" />
<line x1="922.0" y1="385.5" x2="1116.6" y2="385.5" stroke="#26377a" stroke-width="1.45" />
<line x1="922.0" y1="407.0" x2="1116.6" y2="407.0" stroke="#26377a" stroke-width="1.45" />
<line x1="922.0" y1="428.6" x2="1116.6" y2="428.6" stroke="#26377a" stroke-width="1.45" />
<text x="943.2" y="228.0" font-family="&quot;Liberation Sans&quot;, sans-serif" font-size="13.5" fill="#22329a" text-anchor="middle" font-weight="normal" font-style="italic" textLength="26" lengthAdjust="spacingAndGlyphs" stroke="#22329a" stroke-width="0.35">OFF</text>
<text x="986.5" y="228.0" font-family="&quot;Liberation Sans&quot;, sans-serif" font-size="13.5" fill="#22329a" text-anchor="middle" font-weight="normal" font-style="italic" textLength="26" lengthAdjust="spacingAndGlyphs" stroke="#22329a" stroke-width="0.35">OFF</text>
<text x="1029.8" y="228.0" font-family="&quot;Liberation Sans&quot;, sans-serif" font-size="13.5" fill="#22329a" text-anchor="middle" font-weight="normal" font-style="italic" textLength="26" lengthAdjust="spacingAndGlyphs" stroke="#22329a" stroke-width="0.35">OFF</text>
<text x="1073.1" y="228.0" font-family="&quot;Liberation Sans&quot;, sans-serif" font-size="13.5" fill="#22329a" text-anchor="middle" font-weight="normal" font-style="italic" textLength="26" lengthAdjust="spacingAndGlyphs" stroke="#22329a" stroke-width="0.35">OFF</text>
<text x="1105.9" y="229.7" font-family="&quot;Liberation Sans&quot;, sans-serif" font-size="16" fill="#22329a" text-anchor="middle" font-weight="normal" font-style="normal" >0</text>
<rect x="925.3" y="237.5" width="37.1" height="15.6" fill="none" stroke="#d12a2a" stroke-width="2.2"/>
<text x="942.7" y="249.6" font-family="&quot;Liberation Sans&quot;, sans-serif" font-size="13.5" fill="#22329a" text-anchor="middle" font-weight="normal" font-style="italic" textLength="21" lengthAdjust="spacingAndGlyphs" stroke="#22329a" stroke-width="0.35">ON</text>
<text x="986.5" y="249.6" font-family="&quot;Liberation Sans&quot;, sans-serif" font-size="13.5" fill="#22329a" text-anchor="middle" font-weight="normal" font-style="italic" textLength="26" lengthAdjust="spacingAndGlyphs" stroke="#22329a" stroke-width="0.35">OFF</text>
<text x="1029.8" y="249.6" font-family="&quot;Liberation Sans&quot;, sans-serif" font-size="13.5" fill="#22329a" text-anchor="middle" font-weight="normal" font-style="italic" textLength="26" lengthAdjust="spacingAndGlyphs" stroke="#22329a" stroke-width="0.35">OFF</text>
<text x="1073.1" y="249.6" font-family="&quot;Liberation Sans&quot;, sans-serif" font-size="13.5" fill="#22329a" text-anchor="middle" font-weight="normal" font-style="italic" textLength="26" lengthAdjust="spacingAndGlyphs" stroke="#22329a" stroke-width="0.35">OFF</text>
<text x="1105.9" y="251.3" font-family="&quot;Liberation Sans&quot;, sans-serif" font-size="16" fill="#22329a" text-anchor="middle" font-weight="normal" font-style="normal" >1</text>
<text x="943.2" y="271.1" font-family="&quot;Liberation Sans&quot;, sans-serif" font-size="13.5" fill="#22329a" text-anchor="middle" font-weight="normal" font-style="italic" textLength="26" lengthAdjust="spacingAndGlyphs" stroke="#22329a" stroke-width="0.35">OFF</text>
<rect x="968.7" y="259.0" width="37.0" height="15.6" fill="none" stroke="#d12a2a" stroke-width="2.2"/>
<text x="986.0" y="271.1" font-family="&quot;Liberation Sans&quot;, sans-serif" font-size="13.5" fill="#22329a" text-anchor="middle" font-weight="normal" font-style="italic" textLength="21" lengthAdjust="spacingAndGlyphs" stroke="#22329a" stroke-width="0.35">ON</text>
<text x="1029.8" y="271.1" font-family="&quot;Liberation Sans&quot;, sans-serif" font-size="13.5" fill="#22329a" text-anchor="middle" font-weight="normal" font-style="italic" textLength="26" lengthAdjust="spacingAndGlyphs" stroke="#22329a" stroke-width="0.35">OFF</text>
<text x="1073.1" y="271.1" font-family="&quot;Liberation Sans&quot;, sans-serif" font-size="13.5" fill="#22329a" text-anchor="middle" font-weight="normal" font-style="italic" textLength="26" lengthAdjust="spacingAndGlyphs" stroke="#22329a" stroke-width="0.35">OFF</text>
<text x="1105.9" y="272.8" font-family="&quot;Liberation Sans&quot;, sans-serif" font-size="16" fill="#22329a" text-anchor="middle" font-weight="normal" font-style="normal" >2</text>
<rect x="925.3" y="280.6" width="37.1" height="15.6" fill="none" stroke="#d12a2a" stroke-width="2.2"/>
<text x="942.7" y="292.7" font-family="&quot;Liberation Sans&quot;, sans-serif" font-size="13.5" fill="#22329a" text-anchor="middle" font-weight="normal" font-style="italic" textLength="21" lengthAdjust="spacingAndGlyphs" stroke="#22329a" stroke-width="0.35">ON</text>
<rect x="968.7" y="280.6" width="37.0" height="15.6" fill="none" stroke="#d12a2a" stroke-width="2.2"/>
<text x="986.0" y="292.7" font-family="&quot;Liberation Sans&quot;, sans-serif" font-size="13.5" fill="#22329a" text-anchor="middle" font-weight="normal" font-style="italic" textLength="21" lengthAdjust="spacingAndGlyphs" stroke="#22329a" stroke-width="0.35">ON</text>
<text x="1029.8" y="292.7" font-family="&quot;Liberation Sans&quot;, sans-serif" font-size="13.5" fill="#22329a" text-anchor="middle" font-weight="normal" font-style="italic" textLength="26" lengthAdjust="spacingAndGlyphs" stroke="#22329a" stroke-width="0.35">OFF</text>
<text x="1073.1" y="292.7" font-family="&quot;Liberation Sans&quot;, sans-serif" font-size="13.5" fill="#22329a" text-anchor="middle" font-weight="normal" font-style="italic" textLength="26" lengthAdjust="spacingAndGlyphs" stroke="#22329a" stroke-width="0.35">OFF</text>
<text x="1105.9" y="294.4" font-family="&quot;Liberation Sans&quot;, sans-serif" font-size="16" fill="#22329a" text-anchor="middle" font-weight="normal" font-style="normal" >3</text>
<text x="943.2" y="314.3" font-family="&quot;Liberation Sans&quot;, sans-serif" font-size="13.5" fill="#22329a" text-anchor="middle" font-weight="normal" font-style="italic" textLength="26" lengthAdjust="spacingAndGlyphs" stroke="#22329a" stroke-width="0.35">OFF</text>
<text x="986.5" y="314.3" font-family="&quot;Liberation Sans&quot;, sans-serif" font-size="13.5" fill="#22329a" text-anchor="middle" font-weight="normal" font-style="italic" textLength="26" lengthAdjust="spacingAndGlyphs" stroke="#22329a" stroke-width="0.35">OFF</text>
<rect x="1012.0" y="302.2" width="37.0" height="15.6" fill="none" stroke="#d12a2a" stroke-width="2.2"/>
<text x="1029.3" y="314.3" font-family="&quot;Liberation Sans&quot;, sans-serif" font-size="13.5" fill="#22329a" text-anchor="middle" font-weight="normal" font-style="italic" textLength="21" lengthAdjust="spacingAndGlyphs" stroke="#22329a" stroke-width="0.35">ON</text>
<text x="1073.1" y="314.3" font-family="&quot;Liberation Sans&quot;, sans-serif" font-size="13.5" fill="#22329a" text-anchor="middle" font-weight="normal" font-style="italic" textLength="26" lengthAdjust="spacingAndGlyphs" stroke="#22329a" stroke-width="0.35">OFF</text>
<text x="1105.9" y="316.0" font-family="&quot;Liberation Sans&quot;, sans-serif" font-size="16" fill="#22329a" text-anchor="middle" font-weight="normal" font-style="normal" >4</text>
<rect x="925.3" y="323.8" width="37.1" height="15.6" fill="none" stroke="#d12a2a" stroke-width="2.2"/>
<text x="942.7" y="335.8" font-family="&quot;Liberation Sans&quot;, sans-serif" font-size="13.5" fill="#22329a" text-anchor="middle" font-weight="normal" font-style="italic" textLength="21" lengthAdjust="spacingAndGlyphs" stroke="#22329a" stroke-width="0.35">ON</text>
<text x="986.5" y="335.8" font-family="&quot;Liberation Sans&quot;, sans-serif" font-size="13.5" fill="#22329a" text-anchor="middle" font-weight="normal" font-style="italic" textLength="26" lengthAdjust="spacingAndGlyphs" stroke="#22329a" stroke-width="0.35">OFF</text>
<rect x="1012.0" y="323.8" width="37.0" height="15.6" fill="none" stroke="#d12a2a" stroke-width="2.2"/>
<text x="1029.3" y="335.8" font-family="&quot;Liberation Sans&quot;, sans-serif" font-size="13.5" fill="#22329a" text-anchor="middle" font-weight="normal" font-style="italic" textLength="21" lengthAdjust="spacingAndGlyphs" stroke="#22329a" stroke-width="0.35">ON</text>
<text x="1073.1" y="335.8" font-family="&quot;Liberation Sans&quot;, sans-serif" font-size="13.5" fill="#22329a" text-anchor="middle" font-weight="normal" font-style="italic" textLength="26" lengthAdjust="spacingAndGlyphs" stroke="#22329a" stroke-width="0.35">OFF</text>
<text x="1105.9" y="337.5" font-family="&quot;Liberation Sans&quot;, sans-serif" font-size="16" fill="#22329a" text-anchor="middle" font-weight="normal" font-style="normal" >5</text>
<text x="943.2" y="357.4" font-family="&quot;Liberation Sans&quot;, sans-serif" font-size="13.5" fill="#22329a" text-anchor="middle" font-weight="normal" font-style="italic" textLength="26" lengthAdjust="spacingAndGlyphs" stroke="#22329a" stroke-width="0.35">OFF</text>
<rect x="968.7" y="345.3" width="37.0" height="15.6" fill="none" stroke="#d12a2a" stroke-width="2.2"/>
<text x="986.0" y="357.4" font-family="&quot;Liberation Sans&quot;, sans-serif" font-size="13.5" fill="#22329a" text-anchor="middle" font-weight="normal" font-style="italic" textLength="21" lengthAdjust="spacingAndGlyphs" stroke="#22329a" stroke-width="0.35">ON</text>
<rect x="1012.0" y="345.3" width="37.0" height="15.6" fill="none" stroke="#d12a2a" stroke-width="2.2"/>
<text x="1029.3" y="357.4" font-family="&quot;Liberation Sans&quot;, sans-serif" font-size="13.5" fill="#22329a" text-anchor="middle" font-weight="normal" font-style="italic" textLength="21" lengthAdjust="spacingAndGlyphs" stroke="#22329a" stroke-width="0.35">ON</text>
<text x="1073.1" y="357.4" font-family="&quot;Liberation Sans&quot;, sans-serif" font-size="13.5" fill="#22329a" text-anchor="middle" font-weight="normal" font-style="italic" textLength="26" lengthAdjust="spacingAndGlyphs" stroke="#22329a" stroke-width="0.35">OFF</text>
<text x="1105.9" y="359.1" font-family="&quot;Liberation Sans&quot;, sans-serif" font-size="16" fill="#22329a" text-anchor="middle" font-weight="normal" font-style="normal" >6</text>
<rect x="925.3" y="366.9" width="37.1" height="15.6" fill="none" stroke="#d12a2a" stroke-width="2.2"/>
<text x="942.7" y="379.0" font-family="&quot;Liberation Sans&quot;, sans-serif" font-size="13.5" fill="#22329a" text-anchor="middle" font-weight="normal" font-style="italic" textLength="21" lengthAdjust="spacingAndGlyphs" stroke="#22329a" stroke-width="0.35">ON</text>
<rect x="968.7" y="366.9" width="37.0" height="15.6" fill="none" stroke="#d12a2a" stroke-width="2.2"/>
<text x="986.0" y="379.0" font-family="&quot;Liberation Sans&quot;, sans-serif" font-size="13.5" fill="#22329a" text-anchor="middle" font-weight="normal" font-style="italic" textLength="21" lengthAdjust="spacingAndGlyphs" stroke="#22329a" stroke-width="0.35">ON</text>
<rect x="1012.0" y="366.9" width="37.0" height="15.6" fill="none" stroke="#d12a2a" stroke-width="2.2"/>
<text x="1029.3" y="379.0" font-family="&quot;Liberation Sans&quot;, sans-serif" font-size="13.5" fill="#22329a" text-anchor="middle" font-weight="normal" font-style="italic" textLength="21" lengthAdjust="spacingAndGlyphs" stroke="#22329a" stroke-width="0.35">ON</text>
<text x="1073.1" y="379.0" font-family="&quot;Liberation Sans&quot;, sans-serif" font-size="13.5" fill="#22329a" text-anchor="middle" font-weight="normal" font-style="italic" textLength="26" lengthAdjust="spacingAndGlyphs" stroke="#22329a" stroke-width="0.35">OFF</text>
<text x="1105.9" y="380.7" font-family="&quot;Liberation Sans&quot;, sans-serif" font-size="16" fill="#22329a" text-anchor="middle" font-weight="normal" font-style="normal" >7</text>
<text x="943.2" y="400.5" font-family="&quot;Liberation Sans&quot;, sans-serif" font-size="13.5" fill="#22329a" text-anchor="middle" font-weight="normal" font-style="italic" textLength="26" lengthAdjust="spacingAndGlyphs" stroke="#22329a" stroke-width="0.35">OFF</text>
<text x="986.5" y="400.5" font-family="&quot;Liberation Sans&quot;, sans-serif" font-size="13.5" fill="#22329a" text-anchor="middle" font-weight="normal" font-style="italic" textLength="26" lengthAdjust="spacingAndGlyphs" stroke="#22329a" stroke-width="0.35">OFF</text>
<text x="1029.8" y="400.5" font-family="&quot;Liberation Sans&quot;, sans-serif" font-size="13.5" fill="#22329a" text-anchor="middle" font-weight="normal" font-style="italic" textLength="26" lengthAdjust="spacingAndGlyphs" stroke="#22329a" stroke-width="0.35">OFF</text>
<rect x="1055.3" y="388.5" width="36.9" height="15.6" fill="none" stroke="#d12a2a" stroke-width="2.2"/>
<text x="1072.6" y="400.5" font-family="&quot;Liberation Sans&quot;, sans-serif" font-size="13.5" fill="#22329a" text-anchor="middle" font-weight="normal" font-style="italic" textLength="21" lengthAdjust="spacingAndGlyphs" stroke="#22329a" stroke-width="0.35">ON</text>
<text x="1105.9" y="402.2" font-family="&quot;Liberation Sans&quot;, sans-serif" font-size="16" fill="#22329a" text-anchor="middle" font-weight="normal" font-style="normal" >8</text>
<rect x="925.3" y="410.0" width="37.1" height="15.6" fill="none" stroke="#d12a2a" stroke-width="2.2"/>
<text x="942.7" y="422.1" font-family="&quot;Liberation Sans&quot;, sans-serif" font-size="13.5" fill="#22329a" text-anchor="middle" font-weight="normal" font-style="italic" textLength="21" lengthAdjust="spacingAndGlyphs" stroke="#22329a" stroke-width="0.35">ON</text>
<text x="986.5" y="422.1" font-family="&quot;Liberation Sans&quot;, sans-serif" font-size="13.5" fill="#22329a" text-anchor="middle" font-weight="normal" font-style="italic" textLength="26" lengthAdjust="spacingAndGlyphs" stroke="#22329a" stroke-width="0.35">OFF</text>
<text x="1029.8" y="422.1" font-family="&quot;Liberation Sans&quot;, sans-serif" font-size="13.5" fill="#22329a" text-anchor="middle" font-weight="normal" font-style="italic" textLength="26" lengthAdjust="spacingAndGlyphs" stroke="#22329a" stroke-width="0.35">OFF</text>
<rect x="1055.3" y="410.0" width="36.9" height="15.6" fill="none" stroke="#d12a2a" stroke-width="2.2"/>
<text x="1072.6" y="422.1" font-family="&quot;Liberation Sans&quot;, sans-serif" font-size="13.5" fill="#22329a" text-anchor="middle" font-weight="normal" font-style="italic" textLength="21" lengthAdjust="spacingAndGlyphs" stroke="#22329a" stroke-width="0.35">ON</text>
<text x="1105.9" y="423.8" font-family="&quot;Liberation Sans&quot;, sans-serif" font-size="16" fill="#22329a" text-anchor="middle" font-weight="normal" font-style="normal" >9</text>
<line x1="1138.4" y1="148.1" x2="1138.4" y2="417.8" stroke="#26377a" stroke-width="1.6" />
<line x1="1116.6" y1="223.7" x2="1138.3" y2="223.7" stroke="#26377a" stroke-width="1.6" />
<circle cx="1138.3" cy="223.7" r="2.6" fill="#26377a"/>
<line x1="1116.6" y1="245.3" x2="1138.3" y2="245.3" stroke="#26377a" stroke-width="1.6" />
<circle cx="1138.3" cy="245.3" r="2.6" fill="#26377a"/>
<line x1="1116.6" y1="266.8" x2="1138.3" y2="266.8" stroke="#26377a" stroke-width="1.6" />
<circle cx="1138.3" cy="266.8" r="2.6" fill="#26377a"/>
<line x1="1116.6" y1="288.4" x2="1138.3" y2="288.4" stroke="#26377a" stroke-width="1.6" />
<circle cx="1138.3" cy="288.4" r="2.6" fill="#26377a"/>
<line x1="1116.6" y1="310.0" x2="1138.3" y2="310.0" stroke="#26377a" stroke-width="1.6" />
<circle cx="1138.3" cy="310.0" r="2.6" fill="#26377a"/>
<line x1="1116.6" y1="331.5" x2="1138.3" y2="331.5" stroke="#26377a" stroke-width="1.6" />
<circle cx="1138.3" cy="331.5" r="2.6" fill="#26377a"/>
<line x1="1116.6" y1="353.1" x2="1138.3" y2="353.1" stroke="#26377a" stroke-width="1.6" />
<circle cx="1138.3" cy="353.1" r="2.6" fill="#26377a"/>
<line x1="1116.6" y1="374.7" x2="1138.3" y2="374.7" stroke="#26377a" stroke-width="1.6" />
<circle cx="1138.3" cy="374.7" r="2.6" fill="#26377a"/>
<line x1="1116.6" y1="396.2" x2="1138.3" y2="396.2" stroke="#26377a" stroke-width="1.6" />
<circle cx="1138.3" cy="396.2" r="2.6" fill="#26377a"/>
<line x1="1116.6" y1="417.8" x2="1138.3" y2="417.8" stroke="#26377a" stroke-width="1.6" />
<polyline points="639.2,622.1 639.2,599.8 769.3,599.8 769.3,622.1" fill="none" stroke="#26377a" stroke-width="1.6" stroke-linejoin="miter" />
<text x="644.2" y="616.6" font-family="&quot;Liberation Sans&quot;, sans-serif" font-size="14" fill="#22329a" text-anchor="start" font-weight="normal" font-style="normal" textLength="113.7" lengthAdjust="spacingAndGlyphs" stroke="#22329a" stroke-width="0.35">ДЕСЯТКИ.МИНУТ</text>
<line x1="639.2" y1="622.1" x2="639.2" y2="751.2" stroke="#26377a" stroke-width="1.45" />
<line x1="681.4" y1="622.1" x2="681.4" y2="751.2" stroke="#26377a" stroke-width="1.45" />
<line x1="726.9" y1="622.1" x2="726.9" y2="751.2" stroke="#26377a" stroke-width="1.45" />
<line x1="769.3" y1="622.1" x2="769.3" y2="751.2" stroke="#26377a" stroke-width="1.45" />
<line x1="790.8" y1="622.1" x2="790.8" y2="751.2" stroke="#26377a" stroke-width="1.45" />
<line x1="639.2" y1="622.1" x2="790.8" y2="622.1" stroke="#26377a" stroke-width="1.45" />
<line x1="639.2" y1="643.4" x2="790.8" y2="643.4" stroke="#26377a" stroke-width="1.45" />
<line x1="639.2" y1="665.0" x2="790.8" y2="665.0" stroke="#26377a" stroke-width="1.45" />
<line x1="639.2" y1="686.6" x2="790.8" y2="686.6" stroke="#26377a" stroke-width="1.45" />
<line x1="639.2" y1="707.9" x2="790.8" y2="707.9" stroke="#26377a" stroke-width="1.45" />
<line x1="639.2" y1="729.4" x2="790.8" y2="729.4" stroke="#26377a" stroke-width="1.45" />
<line x1="639.2" y1="751.2" x2="790.8" y2="751.2" stroke="#26377a" stroke-width="1.45" />
<text x="659.8" y="637.0" font-family="&quot;Liberation Sans&quot;, sans-serif" font-size="13.5" fill="#22329a" text-anchor="middle" font-weight="normal" font-style="italic" textLength="26" lengthAdjust="spacingAndGlyphs" stroke="#22329a" stroke-width="0.35">OFF</text>
<text x="703.6" y="637.0" font-family="&quot;Liberation Sans&quot;, sans-serif" font-size="13.5" fill="#22329a" text-anchor="middle" font-weight="normal" font-style="italic" textLength="26" lengthAdjust="spacingAndGlyphs" stroke="#22329a" stroke-width="0.35">OFF</text>
<text x="747.6" y="637.0" font-family="&quot;Liberation Sans&quot;, sans-serif" font-size="13.5" fill="#22329a" text-anchor="middle" font-weight="normal" font-style="italic" textLength="26" lengthAdjust="spacingAndGlyphs" stroke="#22329a" stroke-width="0.35">OFF</text>
<text x="780.0" y="638.8" font-family="&quot;Liberation Sans&quot;, sans-serif" font-size="16" fill="#22329a" text-anchor="middle" font-weight="normal" font-style="normal" >0</text>
<rect x="642.5" y="646.4" width="35.9" height="15.6" fill="none" stroke="#d12a2a" stroke-width="2.2"/>
<text x="659.3" y="658.5" font-family="&quot;Liberation Sans&quot;, sans-serif" font-size="13.5" fill="#22329a" text-anchor="middle" font-weight="normal" font-style="italic" textLength="21" lengthAdjust="spacingAndGlyphs" stroke="#22329a" stroke-width="0.35">ON</text>
<text x="703.6" y="658.5" font-family="&quot;Liberation Sans&quot;, sans-serif" font-size="13.5" fill="#22329a" text-anchor="middle" font-weight="normal" font-style="italic" textLength="26" lengthAdjust="spacingAndGlyphs" stroke="#22329a" stroke-width="0.35">OFF</text>
<text x="747.6" y="658.5" font-family="&quot;Liberation Sans&quot;, sans-serif" font-size="13.5" fill="#22329a" text-anchor="middle" font-weight="normal" font-style="italic" textLength="26" lengthAdjust="spacingAndGlyphs" stroke="#22329a" stroke-width="0.35">OFF</text>
<text x="780.0" y="660.2" font-family="&quot;Liberation Sans&quot;, sans-serif" font-size="16" fill="#22329a" text-anchor="middle" font-weight="normal" font-style="normal" >1</text>
<text x="659.8" y="680.1" font-family="&quot;Liberation Sans&quot;, sans-serif" font-size="13.5" fill="#22329a" text-anchor="middle" font-weight="normal" font-style="italic" textLength="26" lengthAdjust="spacingAndGlyphs" stroke="#22329a" stroke-width="0.35">OFF</text>
<rect x="684.7" y="668.0" width="39.2" height="15.6" fill="none" stroke="#d12a2a" stroke-width="2.2"/>
<text x="703.1" y="680.1" font-family="&quot;Liberation Sans&quot;, sans-serif" font-size="13.5" fill="#22329a" text-anchor="middle" font-weight="normal" font-style="italic" textLength="21" lengthAdjust="spacingAndGlyphs" stroke="#22329a" stroke-width="0.35">ON</text>
<text x="747.6" y="680.1" font-family="&quot;Liberation Sans&quot;, sans-serif" font-size="13.5" fill="#22329a" text-anchor="middle" font-weight="normal" font-style="italic" textLength="26" lengthAdjust="spacingAndGlyphs" stroke="#22329a" stroke-width="0.35">OFF</text>
<text x="780.0" y="681.8" font-family="&quot;Liberation Sans&quot;, sans-serif" font-size="16" fill="#22329a" text-anchor="middle" font-weight="normal" font-style="normal" >2</text>
<rect x="642.5" y="689.6" width="35.9" height="15.3" fill="none" stroke="#d12a2a" stroke-width="2.2"/>
<text x="659.3" y="701.5" font-family="&quot;Liberation Sans&quot;, sans-serif" font-size="13.5" fill="#22329a" text-anchor="middle" font-weight="normal" font-style="italic" textLength="21" lengthAdjust="spacingAndGlyphs" stroke="#22329a" stroke-width="0.35">ON</text>
<rect x="684.7" y="689.6" width="39.2" height="15.3" fill="none" stroke="#d12a2a" stroke-width="2.2"/>
<text x="703.1" y="701.5" font-family="&quot;Liberation Sans&quot;, sans-serif" font-size="13.5" fill="#22329a" text-anchor="middle" font-weight="normal" font-style="italic" textLength="21" lengthAdjust="spacingAndGlyphs" stroke="#22329a" stroke-width="0.35">ON</text>
<text x="747.6" y="701.5" font-family="&quot;Liberation Sans&quot;, sans-serif" font-size="13.5" fill="#22329a" text-anchor="middle" font-weight="normal" font-style="italic" textLength="26" lengthAdjust="spacingAndGlyphs" stroke="#22329a" stroke-width="0.35">OFF</text>
<text x="780.0" y="703.2" font-family="&quot;Liberation Sans&quot;, sans-serif" font-size="16" fill="#22329a" text-anchor="middle" font-weight="normal" font-style="normal" >3</text>
<text x="659.8" y="722.9" font-family="&quot;Liberation Sans&quot;, sans-serif" font-size="13.5" fill="#22329a" text-anchor="middle" font-weight="normal" font-style="italic" textLength="26" lengthAdjust="spacingAndGlyphs" stroke="#22329a" stroke-width="0.35">OFF</text>
<text x="703.6" y="722.9" font-family="&quot;Liberation Sans&quot;, sans-serif" font-size="13.5" fill="#22329a" text-anchor="middle" font-weight="normal" font-style="italic" textLength="26" lengthAdjust="spacingAndGlyphs" stroke="#22329a" stroke-width="0.35">OFF</text>
<rect x="730.2" y="710.9" width="36.1" height="15.5" fill="none" stroke="#d12a2a" stroke-width="2.2"/>
<text x="747.1" y="722.9" font-family="&quot;Liberation Sans&quot;, sans-serif" font-size="13.5" fill="#22329a" text-anchor="middle" font-weight="normal" font-style="italic" textLength="21" lengthAdjust="spacingAndGlyphs" stroke="#22329a" stroke-width="0.35">ON</text>
<text x="780.0" y="724.6" font-family="&quot;Liberation Sans&quot;, sans-serif" font-size="16" fill="#22329a" text-anchor="middle" font-weight="normal" font-style="normal" >4</text>
<rect x="642.5" y="732.4" width="35.9" height="15.8" fill="none" stroke="#d12a2a" stroke-width="2.2"/>
<text x="659.3" y="744.6" font-family="&quot;Liberation Sans&quot;, sans-serif" font-size="13.5" fill="#22329a" text-anchor="middle" font-weight="normal" font-style="italic" textLength="21" lengthAdjust="spacingAndGlyphs" stroke="#22329a" stroke-width="0.35">ON</text>
<text x="703.6" y="744.6" font-family="&quot;Liberation Sans&quot;, sans-serif" font-size="13.5" fill="#22329a" text-anchor="middle" font-weight="normal" font-style="italic" textLength="26" lengthAdjust="spacingAndGlyphs" stroke="#22329a" stroke-width="0.35">OFF</text>
<rect x="730.2" y="732.4" width="36.1" height="15.8" fill="none" stroke="#d12a2a" stroke-width="2.2"/>
<text x="747.1" y="744.6" font-family="&quot;Liberation Sans&quot;, sans-serif" font-size="13.5" fill="#22329a" text-anchor="middle" font-weight="normal" font-style="italic" textLength="21" lengthAdjust="spacingAndGlyphs" stroke="#22329a" stroke-width="0.35">ON</text>
<text x="780.0" y="746.3" font-family="&quot;Liberation Sans&quot;, sans-serif" font-size="16" fill="#22329a" text-anchor="middle" font-weight="normal" font-style="normal" >5</text>
<line x1="790.8" y1="632.7" x2="812.8" y2="632.7" stroke="#26377a" stroke-width="1.6" />
<circle cx="812.8" cy="632.7" r="2.6" fill="#26377a"/>
<line x1="790.8" y1="654.9" x2="812.8" y2="654.9" stroke="#26377a" stroke-width="1.6" />
<circle cx="812.8" cy="654.9" r="2.6" fill="#26377a"/>
<line x1="790.8" y1="676.0" x2="812.8" y2="676.0" stroke="#26377a" stroke-width="1.6" />
<circle cx="812.8" cy="676.0" r="2.6" fill="#26377a"/>
<line x1="790.8" y1="697.1" x2="812.8" y2="697.1" stroke="#26377a" stroke-width="1.6" />
<circle cx="812.8" cy="697.1" r="2.6" fill="#26377a"/>
<line x1="790.8" y1="717.7" x2="812.8" y2="717.7" stroke="#26377a" stroke-width="1.6" />
<circle cx="812.8" cy="717.7" r="2.6" fill="#26377a"/>
<line x1="790.8" y1="738.8" x2="812.8" y2="738.8" stroke="#26377a" stroke-width="1.6" />
<polyline points="920.0,622.9 920.0,601.1 1094.1,601.1 1094.1,622.9" fill="none" stroke="#26377a" stroke-width="1.6" stroke-linejoin="miter" />
<text x="925.0" y="617.4" font-family="&quot;Liberation Sans&quot;, sans-serif" font-size="14" fill="#22329a" text-anchor="start" font-weight="normal" font-style="normal" textLength="115.6" lengthAdjust="spacingAndGlyphs" stroke="#22329a" stroke-width="0.35">ЕДИНИЦЫ.МИНУТ</text>
<line x1="920.0" y1="622.9" x2="920.0" y2="838.7" stroke="#26377a" stroke-width="1.45" />
<line x1="965.4" y1="622.9" x2="965.4" y2="838.7" stroke="#26377a" stroke-width="1.45" />
<line x1="1009.2" y1="622.9" x2="1009.2" y2="838.7" stroke="#26377a" stroke-width="1.45" />
<line x1="1051.8" y1="622.9" x2="1051.8" y2="838.7" stroke="#26377a" stroke-width="1.45" />
<line x1="1094.1" y1="622.9" x2="1094.1" y2="838.7" stroke="#26377a" stroke-width="1.45" />
<line x1="1116.7" y1="622.9" x2="1116.7" y2="838.7" stroke="#26377a" stroke-width="1.45" />
<line x1="920.0" y1="622.9" x2="1116.7" y2="622.9" stroke="#26377a" stroke-width="1.45" />
<line x1="920.0" y1="644.5" x2="1116.7" y2="644.5" stroke="#26377a" stroke-width="1.45" />
<line x1="920.0" y1="666.1" x2="1116.7" y2="666.1" stroke="#26377a" stroke-width="1.45" />
<line x1="920.0" y1="687.6" x2="1116.7" y2="687.6" stroke="#26377a" stroke-width="1.45" />
<line x1="920.0" y1="709.2" x2="1116.7" y2="709.2" stroke="#26377a" stroke-width="1.45" />
<line x1="920.0" y1="730.8" x2="1116.7" y2="730.8" stroke="#26377a" stroke-width="1.45" />
<line x1="920.0" y1="752.4" x2="1116.7" y2="752.4" stroke="#26377a" stroke-width="1.45" />
<line x1="920.0" y1="774.0" x2="1116.7" y2="774.0" stroke="#26377a" stroke-width="1.45" />
<line x1="920.0" y1="795.5" x2="1116.7" y2="795.5" stroke="#26377a" stroke-width="1.45" />
<line x1="920.0" y1="817.1" x2="1116.7" y2="817.1" stroke="#26377a" stroke-width="1.45" />
<line x1="920.0" y1="838.7" x2="1116.7" y2="838.7" stroke="#26377a" stroke-width="1.45" />
<text x="942.2" y="638.0" font-family="&quot;Liberation Sans&quot;, sans-serif" font-size="13.5" fill="#22329a" text-anchor="middle" font-weight="normal" font-style="italic" textLength="26" lengthAdjust="spacingAndGlyphs" stroke="#22329a" stroke-width="0.35">OFF</text>
<text x="986.8" y="638.0" font-family="&quot;Liberation Sans&quot;, sans-serif" font-size="13.5" fill="#22329a" text-anchor="middle" font-weight="normal" font-style="italic" textLength="26" lengthAdjust="spacingAndGlyphs" stroke="#22329a" stroke-width="0.35">OFF</text>
<text x="1030.0" y="638.0" font-family="&quot;Liberation Sans&quot;, sans-serif" font-size="13.5" fill="#22329a" text-anchor="middle" font-weight="normal" font-style="italic" textLength="26" lengthAdjust="spacingAndGlyphs" stroke="#22329a" stroke-width="0.35">OFF</text>
<text x="1072.4" y="638.0" font-family="&quot;Liberation Sans&quot;, sans-serif" font-size="13.5" fill="#22329a" text-anchor="middle" font-weight="normal" font-style="italic" textLength="26" lengthAdjust="spacingAndGlyphs" stroke="#22329a" stroke-width="0.35">OFF</text>
<text x="1105.4" y="639.7" font-family="&quot;Liberation Sans&quot;, sans-serif" font-size="16" fill="#22329a" text-anchor="middle" font-weight="normal" font-style="normal" >0</text>
<rect x="923.3" y="647.5" width="39.1" height="15.6" fill="none" stroke="#d12a2a" stroke-width="2.2"/>
<text x="941.7" y="659.6" font-family="&quot;Liberation Sans&quot;, sans-serif" font-size="13.5" fill="#22329a" text-anchor="middle" font-weight="normal" font-style="italic" textLength="21" lengthAdjust="spacingAndGlyphs" stroke="#22329a" stroke-width="0.35">ON</text>
<text x="986.8" y="659.6" font-family="&quot;Liberation Sans&quot;, sans-serif" font-size="13.5" fill="#22329a" text-anchor="middle" font-weight="normal" font-style="italic" textLength="26" lengthAdjust="spacingAndGlyphs" stroke="#22329a" stroke-width="0.35">OFF</text>
<text x="1030.0" y="659.6" font-family="&quot;Liberation Sans&quot;, sans-serif" font-size="13.5" fill="#22329a" text-anchor="middle" font-weight="normal" font-style="italic" textLength="26" lengthAdjust="spacingAndGlyphs" stroke="#22329a" stroke-width="0.35">OFF</text>
<text x="1072.4" y="659.6" font-family="&quot;Liberation Sans&quot;, sans-serif" font-size="13.5" fill="#22329a" text-anchor="middle" font-weight="normal" font-style="italic" textLength="26" lengthAdjust="spacingAndGlyphs" stroke="#22329a" stroke-width="0.35">OFF</text>
<text x="1105.4" y="661.3" font-family="&quot;Liberation Sans&quot;, sans-serif" font-size="16" fill="#22329a" text-anchor="middle" font-weight="normal" font-style="normal" >1</text>
<text x="942.2" y="681.1" font-family="&quot;Liberation Sans&quot;, sans-serif" font-size="13.5" fill="#22329a" text-anchor="middle" font-weight="normal" font-style="italic" textLength="26" lengthAdjust="spacingAndGlyphs" stroke="#22329a" stroke-width="0.35">OFF</text>
<rect x="968.7" y="669.1" width="37.5" height="15.6" fill="none" stroke="#d12a2a" stroke-width="2.2"/>
<text x="986.3" y="681.1" font-family="&quot;Liberation Sans&quot;, sans-serif" font-size="13.5" fill="#22329a" text-anchor="middle" font-weight="normal" font-style="italic" textLength="21" lengthAdjust="spacingAndGlyphs" stroke="#22329a" stroke-width="0.35">ON</text>
<text x="1030.0" y="681.1" font-family="&quot;Liberation Sans&quot;, sans-serif" font-size="13.5" fill="#22329a" text-anchor="middle" font-weight="normal" font-style="italic" textLength="26" lengthAdjust="spacingAndGlyphs" stroke="#22329a" stroke-width="0.35">OFF</text>
<text x="1072.4" y="681.1" font-family="&quot;Liberation Sans&quot;, sans-serif" font-size="13.5" fill="#22329a" text-anchor="middle" font-weight="normal" font-style="italic" textLength="26" lengthAdjust="spacingAndGlyphs" stroke="#22329a" stroke-width="0.35">OFF</text>
<text x="1105.4" y="682.8" font-family="&quot;Liberation Sans&quot;, sans-serif" font-size="16" fill="#22329a" text-anchor="middle" font-weight="normal" font-style="normal" >2</text>
<rect x="923.3" y="690.6" width="39.1" height="15.6" fill="none" stroke="#d12a2a" stroke-width="2.2"/>
<text x="941.7" y="702.7" font-family="&quot;Liberation Sans&quot;, sans-serif" font-size="13.5" fill="#22329a" text-anchor="middle" font-weight="normal" font-style="italic" textLength="21" lengthAdjust="spacingAndGlyphs" stroke="#22329a" stroke-width="0.35">ON</text>
<rect x="968.7" y="690.6" width="37.5" height="15.6" fill="none" stroke="#d12a2a" stroke-width="2.2"/>
<text x="986.3" y="702.7" font-family="&quot;Liberation Sans&quot;, sans-serif" font-size="13.5" fill="#22329a" text-anchor="middle" font-weight="normal" font-style="italic" textLength="21" lengthAdjust="spacingAndGlyphs" stroke="#22329a" stroke-width="0.35">ON</text>
<text x="1030.0" y="702.7" font-family="&quot;Liberation Sans&quot;, sans-serif" font-size="13.5" fill="#22329a" text-anchor="middle" font-weight="normal" font-style="italic" textLength="26" lengthAdjust="spacingAndGlyphs" stroke="#22329a" stroke-width="0.35">OFF</text>
<text x="1072.4" y="702.7" font-family="&quot;Liberation Sans&quot;, sans-serif" font-size="13.5" fill="#22329a" text-anchor="middle" font-weight="normal" font-style="italic" textLength="26" lengthAdjust="spacingAndGlyphs" stroke="#22329a" stroke-width="0.35">OFF</text>
<text x="1105.4" y="704.4" font-family="&quot;Liberation Sans&quot;, sans-serif" font-size="16" fill="#22329a" text-anchor="middle" font-weight="normal" font-style="normal" >3</text>
<text x="942.2" y="724.3" font-family="&quot;Liberation Sans&quot;, sans-serif" font-size="13.5" fill="#22329a" text-anchor="middle" font-weight="normal" font-style="italic" textLength="26" lengthAdjust="spacingAndGlyphs" stroke="#22329a" stroke-width="0.35">OFF</text>
<text x="986.8" y="724.3" font-family="&quot;Liberation Sans&quot;, sans-serif" font-size="13.5" fill="#22329a" text-anchor="middle" font-weight="normal" font-style="italic" textLength="26" lengthAdjust="spacingAndGlyphs" stroke="#22329a" stroke-width="0.35">OFF</text>
<rect x="1012.5" y="712.2" width="36.3" height="15.6" fill="none" stroke="#d12a2a" stroke-width="2.2"/>
<text x="1029.5" y="724.3" font-family="&quot;Liberation Sans&quot;, sans-serif" font-size="13.5" fill="#22329a" text-anchor="middle" font-weight="normal" font-style="italic" textLength="21" lengthAdjust="spacingAndGlyphs" stroke="#22329a" stroke-width="0.35">ON</text>
<text x="1072.4" y="724.3" font-family="&quot;Liberation Sans&quot;, sans-serif" font-size="13.5" fill="#22329a" text-anchor="middle" font-weight="normal" font-style="italic" textLength="26" lengthAdjust="spacingAndGlyphs" stroke="#22329a" stroke-width="0.35">OFF</text>
<text x="1105.4" y="726.0" font-family="&quot;Liberation Sans&quot;, sans-serif" font-size="16" fill="#22329a" text-anchor="middle" font-weight="normal" font-style="normal" >4</text>
<rect x="923.3" y="733.8" width="39.1" height="15.6" fill="none" stroke="#d12a2a" stroke-width="2.2"/>
<text x="941.7" y="745.9" font-family="&quot;Liberation Sans&quot;, sans-serif" font-size="13.5" fill="#22329a" text-anchor="middle" font-weight="normal" font-style="italic" textLength="21" lengthAdjust="spacingAndGlyphs" stroke="#22329a" stroke-width="0.35">ON</text>
<text x="986.8" y="745.9" font-family="&quot;Liberation Sans&quot;, sans-serif" font-size="13.5" fill="#22329a" text-anchor="middle" font-weight="normal" font-style="italic" textLength="26" lengthAdjust="spacingAndGlyphs" stroke="#22329a" stroke-width="0.35">OFF</text>
<rect x="1012.5" y="733.8" width="36.3" height="15.6" fill="none" stroke="#d12a2a" stroke-width="2.2"/>
<text x="1029.5" y="745.9" font-family="&quot;Liberation Sans&quot;, sans-serif" font-size="13.5" fill="#22329a" text-anchor="middle" font-weight="normal" font-style="italic" textLength="21" lengthAdjust="spacingAndGlyphs" stroke="#22329a" stroke-width="0.35">ON</text>
<text x="1072.4" y="745.9" font-family="&quot;Liberation Sans&quot;, sans-serif" font-size="13.5" fill="#22329a" text-anchor="middle" font-weight="normal" font-style="italic" textLength="26" lengthAdjust="spacingAndGlyphs" stroke="#22329a" stroke-width="0.35">OFF</text>
<text x="1105.4" y="747.6" font-family="&quot;Liberation Sans&quot;, sans-serif" font-size="16" fill="#22329a" text-anchor="middle" font-weight="normal" font-style="normal" >5</text>
<text x="942.2" y="767.5" font-family="&quot;Liberation Sans&quot;, sans-serif" font-size="13.5" fill="#22329a" text-anchor="middle" font-weight="normal" font-style="italic" textLength="26" lengthAdjust="spacingAndGlyphs" stroke="#22329a" stroke-width="0.35">OFF</text>
<rect x="968.7" y="755.4" width="37.5" height="15.6" fill="none" stroke="#d12a2a" stroke-width="2.2"/>
<text x="986.3" y="767.5" font-family="&quot;Liberation Sans&quot;, sans-serif" font-size="13.5" fill="#22329a" text-anchor="middle" font-weight="normal" font-style="italic" textLength="21" lengthAdjust="spacingAndGlyphs" stroke="#22329a" stroke-width="0.35">ON</text>
<rect x="1012.5" y="755.4" width="36.3" height="15.6" fill="none" stroke="#d12a2a" stroke-width="2.2"/>
<text x="1029.5" y="767.5" font-family="&quot;Liberation Sans&quot;, sans-serif" font-size="13.5" fill="#22329a" text-anchor="middle" font-weight="normal" font-style="italic" textLength="21" lengthAdjust="spacingAndGlyphs" stroke="#22329a" stroke-width="0.35">ON</text>
<text x="1072.4" y="767.5" font-family="&quot;Liberation Sans&quot;, sans-serif" font-size="13.5" fill="#22329a" text-anchor="middle" font-weight="normal" font-style="italic" textLength="26" lengthAdjust="spacingAndGlyphs" stroke="#22329a" stroke-width="0.35">OFF</text>
<text x="1105.4" y="769.2" font-family="&quot;Liberation Sans&quot;, sans-serif" font-size="16" fill="#22329a" text-anchor="middle" font-weight="normal" font-style="normal" >6</text>
<rect x="923.3" y="777.0" width="39.1" height="15.6" fill="none" stroke="#d12a2a" stroke-width="2.2"/>
<text x="941.7" y="789.0" font-family="&quot;Liberation Sans&quot;, sans-serif" font-size="13.5" fill="#22329a" text-anchor="middle" font-weight="normal" font-style="italic" textLength="21" lengthAdjust="spacingAndGlyphs" stroke="#22329a" stroke-width="0.35">ON</text>
<rect x="968.7" y="777.0" width="37.5" height="15.6" fill="none" stroke="#d12a2a" stroke-width="2.2"/>
<text x="986.3" y="789.0" font-family="&quot;Liberation Sans&quot;, sans-serif" font-size="13.5" fill="#22329a" text-anchor="middle" font-weight="normal" font-style="italic" textLength="21" lengthAdjust="spacingAndGlyphs" stroke="#22329a" stroke-width="0.35">ON</text>
<rect x="1012.5" y="777.0" width="36.3" height="15.6" fill="none" stroke="#d12a2a" stroke-width="2.2"/>
<text x="1029.5" y="789.0" font-family="&quot;Liberation Sans&quot;, sans-serif" font-size="13.5" fill="#22329a" text-anchor="middle" font-weight="normal" font-style="italic" textLength="21" lengthAdjust="spacingAndGlyphs" stroke="#22329a" stroke-width="0.35">ON</text>
<text x="1072.4" y="789.0" font-family="&quot;Liberation Sans&quot;, sans-serif" font-size="13.5" fill="#22329a" text-anchor="middle" font-weight="normal" font-style="italic" textLength="26" lengthAdjust="spacingAndGlyphs" stroke="#22329a" stroke-width="0.35">OFF</text>
<text x="1105.4" y="790.8" font-family="&quot;Liberation Sans&quot;, sans-serif" font-size="16" fill="#22329a" text-anchor="middle" font-weight="normal" font-style="normal" >7</text>
<text x="942.2" y="810.6" font-family="&quot;Liberation Sans&quot;, sans-serif" font-size="13.5" fill="#22329a" text-anchor="middle" font-weight="normal" font-style="italic" textLength="26" lengthAdjust="spacingAndGlyphs" stroke="#22329a" stroke-width="0.35">OFF</text>
<text x="986.8" y="810.6" font-family="&quot;Liberation Sans&quot;, sans-serif" font-size="13.5" fill="#22329a" text-anchor="middle" font-weight="normal" font-style="italic" textLength="26" lengthAdjust="spacingAndGlyphs" stroke="#22329a" stroke-width="0.35">OFF</text>
<text x="1030.0" y="810.6" font-family="&quot;Liberation Sans&quot;, sans-serif" font-size="13.5" fill="#22329a" text-anchor="middle" font-weight="normal" font-style="italic" textLength="26" lengthAdjust="spacingAndGlyphs" stroke="#22329a" stroke-width="0.35">OFF</text>
<rect x="1055.1" y="798.5" width="36.0" height="15.6" fill="none" stroke="#d12a2a" stroke-width="2.2"/>
<text x="1071.9" y="810.6" font-family="&quot;Liberation Sans&quot;, sans-serif" font-size="13.5" fill="#22329a" text-anchor="middle" font-weight="normal" font-style="italic" textLength="21" lengthAdjust="spacingAndGlyphs" stroke="#22329a" stroke-width="0.35">ON</text>
<text x="1105.4" y="812.3" font-family="&quot;Liberation Sans&quot;, sans-serif" font-size="16" fill="#22329a" text-anchor="middle" font-weight="normal" font-style="normal" >8</text>
<rect x="923.3" y="820.1" width="39.1" height="15.6" fill="none" stroke="#d12a2a" stroke-width="2.2"/>
<text x="941.7" y="832.2" font-family="&quot;Liberation Sans&quot;, sans-serif" font-size="13.5" fill="#22329a" text-anchor="middle" font-weight="normal" font-style="italic" textLength="21" lengthAdjust="spacingAndGlyphs" stroke="#22329a" stroke-width="0.35">ON</text>
<text x="986.8" y="832.2" font-family="&quot;Liberation Sans&quot;, sans-serif" font-size="13.5" fill="#22329a" text-anchor="middle" font-weight="normal" font-style="italic" textLength="26" lengthAdjust="spacingAndGlyphs" stroke="#22329a" stroke-width="0.35">OFF</text>
<text x="1030.0" y="832.2" font-family="&quot;Liberation Sans&quot;, sans-serif" font-size="13.5" fill="#22329a" text-anchor="middle" font-weight="normal" font-style="italic" textLength="26" lengthAdjust="spacingAndGlyphs" stroke="#22329a" stroke-width="0.35">OFF</text>
<rect x="1055.1" y="820.1" width="36.0" height="15.6" fill="none" stroke="#d12a2a" stroke-width="2.2"/>
<text x="1071.9" y="832.2" font-family="&quot;Liberation Sans&quot;, sans-serif" font-size="13.5" fill="#22329a" text-anchor="middle" font-weight="normal" font-style="italic" textLength="21" lengthAdjust="spacingAndGlyphs" stroke="#22329a" stroke-width="0.35">ON</text>
<text x="1105.4" y="833.9" font-family="&quot;Liberation Sans&quot;, sans-serif" font-size="16" fill="#22329a" text-anchor="middle" font-weight="normal" font-style="normal" >9</text>
<line x1="1116.7" y1="633.7" x2="1138.1" y2="633.7" stroke="#26377a" stroke-width="1.6" />
<circle cx="1138.1" cy="633.7" r="2.6" fill="#26377a"/>
<line x1="1116.7" y1="655.3" x2="1138.1" y2="655.3" stroke="#26377a" stroke-width="1.6" />
<circle cx="1138.1" cy="655.3" r="2.6" fill="#26377a"/>
<line x1="1116.7" y1="676.8" x2="1138.1" y2="676.8" stroke="#26377a" stroke-width="1.6" />
<circle cx="1138.1" cy="676.8" r="2.6" fill="#26377a"/>
<line x1="1116.7" y1="698.4" x2="1138.1" y2="698.4" stroke="#26377a" stroke-width="1.6" />
<circle cx="1138.1" cy="698.4" r="2.6" fill="#26377a"/>
<line x1="1116.7" y1="720.0" x2="1138.1" y2="720.0" stroke="#26377a" stroke-width="1.6" />
<circle cx="1138.1" cy="720.0" r="2.6" fill="#26377a"/>
<line x1="1116.7" y1="741.6" x2="1138.1" y2="741.6" stroke="#26377a" stroke-width="1.6" />
<circle cx="1138.1" cy="741.6" r="2.6" fill="#26377a"/>
<line x1="1116.7" y1="763.2" x2="1138.1" y2="763.2" stroke="#26377a" stroke-width="1.6" />
<circle cx="1138.1" cy="763.2" r="2.6" fill="#26377a"/>
<line x1="1116.7" y1="784.8" x2="1138.1" y2="784.8" stroke="#26377a" stroke-width="1.6" />
<circle cx="1138.1" cy="784.8" r="2.6" fill="#26377a"/>
<line x1="1116.7" y1="806.3" x2="1138.1" y2="806.3" stroke="#26377a" stroke-width="1.6" />
<circle cx="1138.1" cy="806.3" r="2.6" fill="#26377a"/>
<line x1="1116.7" y1="827.9" x2="1138.1" y2="827.9" stroke="#26377a" stroke-width="1.6" />
<polyline points="704.8,277.3 704.8,299.0 597.5,299.0" fill="none" stroke="#26377a" stroke-width="1.6" stroke-linejoin="miter" />
<polyline points="749.0,277.3 749.0,321.3 617.2,321.3" fill="none" stroke="#26377a" stroke-width="1.6" stroke-linejoin="miter" />
<line x1="683.8" y1="292.0" x2="683.8" y2="306.0" stroke="#26377a" stroke-width="1.7" />
<polygon points="683.8,299.0 694.3,292.0 694.3,306.0" fill="none" stroke="#26377a" stroke-width="1.6"/>
<line x1="683.8" y1="314.3" x2="683.8" y2="328.3" stroke="#26377a" stroke-width="1.7" />
<polygon points="683.8,321.3 694.3,314.3 694.3,328.3" fill="none" stroke="#26377a" stroke-width="1.6"/>
<text x="689.3" y="344.0" font-family="&quot;Liberation Sans&quot;, sans-serif" font-size="10.5" fill="#22329a" text-anchor="middle" font-weight="normal" font-style="normal" textLength="37.5" lengthAdjust="spacingAndGlyphs" stroke="#22329a" stroke-width="0.15">KД521</text>
<polyline points="661.3,751.2 661.3,773.2 617.6,773.2" fill="none" stroke="#26377a" stroke-width="1.6" stroke-linejoin="miter" />
<polyline points="704.8,751.2 704.8,794.8 596.6,794.8" fill="none" stroke="#26377a" stroke-width="1.6" stroke-linejoin="miter" />
<polyline points="748.1,751.2 748.1,816.0 575.8,816.0" fill="none" stroke="#26377a" stroke-width="1.6" stroke-linejoin="miter" />
<line x1="639.7" y1="766.2" x2="639.7" y2="780.2" stroke="#26377a" stroke-width="1.7" />
<polygon points="639.7,773.2 650.2,766.2 650.2,780.2" fill="none" stroke="#26377a" stroke-width="1.6"/>
<line x1="639.7" y1="787.8" x2="639.7" y2="801.8" stroke="#26377a" stroke-width="1.7" />
<polygon points="639.7,794.8 650.2,787.8 650.2,801.8" fill="none" stroke="#26377a" stroke-width="1.6"/>
<line x1="639.7" y1="809.0" x2="639.7" y2="823.0" stroke="#26377a" stroke-width="1.7" />
<polygon points="639.7,816.0 650.2,809.0 650.2,823.0" fill="none" stroke="#26377a" stroke-width="1.6"/>
<text x="647.2" y="837.5" font-family="&quot;Liberation Sans&quot;, sans-serif" font-size="10.5" fill="#22329a" text-anchor="middle" font-weight="normal" font-style="normal" textLength="37.5" lengthAdjust="spacingAndGlyphs" stroke="#22329a" stroke-width="0.15">KД521</text>
<line x1="943.4" y1="428.6" x2="943.4" y2="601.1" stroke="#26377a" stroke-width="1.6" />
<polygon points="936.1,439.3 950.7,439.3 943.4,450.7" fill="none" stroke="#26377a" stroke-width="1.6"/>
<line x1="935.1" y1="450.7" x2="951.7" y2="450.7" stroke="#26377a" stroke-width="1.7" />
<polygon points="936.1,591.0 950.7,591.0 943.4,580.0" fill="none" stroke="#26377a" stroke-width="1.6"/>
<line x1="935.1" y1="580.0" x2="951.7" y2="580.0" stroke="#26377a" stroke-width="1.7" />
<line x1="986.5" y1="428.6" x2="986.5" y2="601.1" stroke="#26377a" stroke-width="1.6" />
<polygon points="979.2,439.3 993.8,439.3 986.5,450.7" fill="none" stroke="#26377a" stroke-width="1.6"/>
<line x1="978.2" y1="450.7" x2="994.8" y2="450.7" stroke="#26377a" stroke-width="1.7" />
<polygon points="979.2,591.0 993.8,591.0 986.5,580.0" fill="none" stroke="#26377a" stroke-width="1.6"/>
<line x1="978.2" y1="580.0" x2="994.8" y2="580.0" stroke="#26377a" stroke-width="1.7" />
<line x1="1030.3" y1="428.6" x2="1030.3" y2="601.1" stroke="#26377a" stroke-width="1.6" />
<polygon points="1023.0,439.3 1037.6,439.3 1030.3,450.7" fill="none" stroke="#26377a" stroke-width="1.6"/>
<line x1="1022.0" y1="450.7" x2="1038.6" y2="450.7" stroke="#26377a" stroke-width="1.7" />
<polygon points="1023.0,591.0 1037.6,591.0 1030.3,580.0" fill="none" stroke="#26377a" stroke-width="1.6"/>
<line x1="1022.0" y1="580.0" x2="1038.6" y2="580.0" stroke="#26377a" stroke-width="1.7" />
<line x1="1073.0" y1="428.6" x2="1073.0" y2="601.1" stroke="#26377a" stroke-width="1.6" />
<polygon points="1065.7,439.3 1080.3,439.3 1073.0,450.7" fill="none" stroke="#26377a" stroke-width="1.6"/>
<line x1="1064.7" y1="450.7" x2="1081.3" y2="450.7" stroke="#26377a" stroke-width="1.7" />
<polygon points="1065.7,591.0 1080.3,591.0 1073.0,580.0" fill="none" stroke="#26377a" stroke-width="1.6"/>
<line x1="1064.7" y1="580.0" x2="1081.3" y2="580.0" stroke="#26377a" stroke-width="1.7" />
<text x="1114.5" y="451.0" font-family="&quot;Liberation Sans&quot;, sans-serif" font-size="10.5" fill="#22329a" text-anchor="middle" font-weight="normal" font-style="normal" textLength="38.5" lengthAdjust="spacingAndGlyphs" stroke="#22329a" stroke-width="0.15">KД521</text>
<text x="1110.3" y="588.3" font-family="&quot;Liberation Sans&quot;, sans-serif" font-size="10.5" fill="#22329a" text-anchor="middle" font-weight="normal" font-style="normal" textLength="34" lengthAdjust="spacingAndGlyphs" stroke="#22329a" stroke-width="0.15">KД521</text>
<circle cx="867.3" cy="243.9" r="29.6" fill="none" stroke="#26377a" stroke-width="1.4"/>
<ellipse cx="867.3" cy="243.9" rx="5.3" ry="11" fill="none" stroke="#26377a" stroke-width="1.5"/>
<text x="867.5" y="226.0" font-family="&quot;Liberation Sans&quot;, sans-serif" font-size="10.5" fill="#22329a" text-anchor="middle" font-weight="bold" font-style="normal" >0</text>
<text x="880.7" y="231.9" font-family="&quot;Liberation Sans&quot;, sans-serif" font-size="10.5" fill="#22329a" text-anchor="middle" font-weight="bold" font-style="normal" >1</text>
<text x="888.9" y="247.3" font-family="&quot;Liberation Sans&quot;, sans-serif" font-size="10.5" fill="#22329a" text-anchor="middle" font-weight="bold" font-style="normal" >2</text>
<circle cx="867.2" cy="653.4" r="29.4" fill="none" stroke="#26377a" stroke-width="1.4"/>
<ellipse cx="867.2" cy="653.4" rx="5.3" ry="11" fill="none" stroke="#26377a" stroke-width="1.5"/>
<text x="866.7" y="635.8" font-family="&quot;Liberation Sans&quot;, sans-serif" font-size="10.5" fill="#22329a" text-anchor="middle" font-weight="bold" font-style="normal" >0</text>
<text x="877.5" y="640.0" font-family="&quot;Liberation Sans&quot;, sans-serif" font-size="10.5" fill="#22329a" text-anchor="middle" font-weight="bold" font-style="normal" >1</text>
<text x="886.0" y="652.0" font-family="&quot;Liberation Sans&quot;, sans-serif" font-size="10.5" fill="#22329a" text-anchor="middle" font-weight="bold" font-style="normal" >2</text>
<text x="887.0" y="664.5" font-family="&quot;Liberation Sans&quot;, sans-serif" font-size="10.5" fill="#22329a" text-anchor="middle" font-weight="bold" font-style="normal" >3</text>
<text x="880.5" y="675.5" font-family="&quot;Liberation Sans&quot;, sans-serif" font-size="10.5" fill="#22329a" text-anchor="middle" font-weight="bold" font-style="normal" >4</text>
<text x="869.5" y="680.0" font-family="&quot;Liberation Sans&quot;, sans-serif" font-size="10.5" fill="#22329a" text-anchor="middle" font-weight="bold" font-style="normal" >5</text>
<circle cx="1192.4" cy="243.4" r="29.6" fill="none" stroke="#26377a" stroke-width="1.4"/>
<rect x="1187.9" y="232.9" width="9" height="21" rx="4" fill="none" stroke="#26377a" stroke-width="1.5"/>
<text x="1192.4" y="225.4" font-family="&quot;Liberation Sans&quot;, sans-serif" font-size="10.5" fill="#22329a" text-anchor="middle" font-weight="bold" font-style="normal" >0</text>
<text x="1203.4" y="229.4" font-family="&quot;Liberation Sans&quot;, sans-serif" font-size="10.5" fill="#22329a" text-anchor="middle" font-weight="bold" font-style="normal" >1</text>
<text x="1211.9" y="238.4" font-family="&quot;Liberation Sans&quot;, sans-serif" font-size="10.5" fill="#22329a" text-anchor="middle" font-weight="bold" font-style="normal" >2</text>
<text x="1212.9" y="253.4" font-family="&quot;Liberation Sans&quot;, sans-serif" font-size="10.5" fill="#22329a" text-anchor="middle" font-weight="bold" font-style="normal" >3</text>
<text x="1204.9" y="264.4" font-family="&quot;Liberation Sans&quot;, sans-serif" font-size="10.5" fill="#22329a" text-anchor="middle" font-weight="bold" font-style="normal" >4</text>
<text x="1192.9" y="268.4" font-family="&quot;Liberation Sans&quot;, sans-serif" font-size="10.5" fill="#22329a" text-anchor="middle" font-weight="bold" font-style="normal" >5</text>
<text x="1181.9" y="264.4" font-family="&quot;Liberation Sans&quot;, sans-serif" font-size="10.5" fill="#22329a" text-anchor="middle" font-weight="bold" font-style="normal" >6</text>
<text x="1172.4" y="258.4" font-family="&quot;Liberation Sans&quot;, sans-serif" font-size="10.5" fill="#22329a" text-anchor="middle" font-weight="bold" font-style="normal" >7</text>
<text x="1170.9" y="243.4" font-family="&quot;Liberation Sans&quot;, sans-serif" font-size="10.5" fill="#22329a" text-anchor="middle" font-weight="bold" font-style="normal" >8</text>
<text x="1179.9" y="232.4" font-family="&quot;Liberation Sans&quot;, sans-serif" font-size="10.5" fill="#22329a" text-anchor="middle" font-weight="bold" font-style="normal" >9</text>
<circle cx="1191.0" cy="655.4" r="29.2" fill="none" stroke="#26377a" stroke-width="1.4"/>
<rect x="1186.5" y="644.9" width="9" height="21" rx="4" fill="none" stroke="#26377a" stroke-width="1.5"/>
<text x="1191.0" y="637.4" font-family="&quot;Liberation Sans&quot;, sans-serif" font-size="10.5" fill="#22329a" text-anchor="middle" font-weight="bold" font-style="normal" >0</text>
<text x="1202.0" y="641.4" font-family="&quot;Liberation Sans&quot;, sans-serif" font-size="10.5" fill="#22329a" text-anchor="middle" font-weight="bold" font-style="normal" >1</text>
<text x="1210.5" y="650.4" font-family="&quot;Liberation Sans&quot;, sans-serif" font-size="10.5" fill="#22329a" text-anchor="middle" font-weight="bold" font-style="normal" >2</text>
<text x="1211.5" y="665.4" font-family="&quot;Liberation Sans&quot;, sans-serif" font-size="10.5" fill="#22329a" text-anchor="middle" font-weight="bold" font-style="normal" >3</text>
<text x="1203.5" y="676.4" font-family="&quot;Liberation Sans&quot;, sans-serif" font-size="10.5" fill="#22329a" text-anchor="middle" font-weight="bold" font-style="normal" >4</text>
<text x="1191.5" y="680.4" font-family="&quot;Liberation Sans&quot;, sans-serif" font-size="10.5" fill="#22329a" text-anchor="middle" font-weight="bold" font-style="normal" >5</text>
<text x="1180.5" y="676.4" font-family="&quot;Liberation Sans&quot;, sans-serif" font-size="10.5" fill="#22329a" text-anchor="middle" font-weight="bold" font-style="normal" >6</text>
<text x="1171.0" y="670.4" font-family="&quot;Liberation Sans&quot;, sans-serif" font-size="10.5" fill="#22329a" text-anchor="middle" font-weight="bold" font-style="normal" >7</text>
<text x="1169.5" y="655.4" font-family="&quot;Liberation Sans&quot;, sans-serif" font-size="10.5" fill="#22329a" text-anchor="middle" font-weight="bold" font-style="normal" >8</text>
<text x="1178.5" y="644.4" font-family="&quot;Liberation Sans&quot;, sans-serif" font-size="10.5" fill="#22329a" text-anchor="middle" font-weight="bold" font-style="normal" >9</text>
</svg>
</body></html>
